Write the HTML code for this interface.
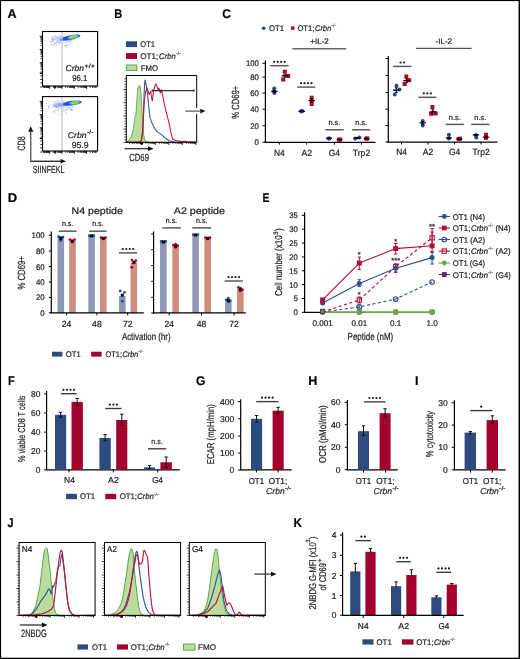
<!DOCTYPE html>
<html><head><meta charset="utf-8"><style>
html,body{margin:0;padding:0;background:#fff;}
svg{display:block;}
text{font-family:"Liberation Sans", sans-serif;filter:grayscale(1);stroke:#231f20;stroke-width:0.22px;}
</style></head><body>
<svg width="520" height="659" viewBox="0 0 520 659" text-rendering="geometricPrecision" font-family='"Liberation Sans", sans-serif'>
<rect width="520" height="659" fill="#fff"/>
<rect x="0" y="0" width="520" height="1.1" fill="#000"/>
<rect x="0" y="0" width="1.1" height="659" fill="#000"/>
<rect x="518.55" y="0" width="1.45" height="659" fill="#000"/>
<rect x="0" y="657.7" width="520" height="1.3" fill="#000"/>
<text x="7.60" y="17.60" font-size="12.6" textLength="9.10" lengthAdjust="spacingAndGlyphs" font-weight="bold" fill="#000">A</text>
<text x="114.30" y="17.60" font-size="12.6" textLength="8.01" lengthAdjust="spacingAndGlyphs" font-weight="bold" fill="#000">B</text>
<text x="222.30" y="17.60" font-size="12.6" textLength="8.64" lengthAdjust="spacingAndGlyphs" font-weight="bold" fill="#000">C</text>
<text x="7.80" y="202.40" font-size="12.6" textLength="9.46" lengthAdjust="spacingAndGlyphs" font-weight="bold" fill="#000">D</text>
<text x="262.50" y="202.40" font-size="12.6" textLength="6.97" lengthAdjust="spacingAndGlyphs" font-weight="bold" fill="#000">E</text>
<text x="8.00" y="385.00" font-size="12.6" textLength="6.70" lengthAdjust="spacingAndGlyphs" font-weight="bold" fill="#000">F</text>
<text x="196.00" y="385.00" font-size="12.6" textLength="9.41" lengthAdjust="spacingAndGlyphs" font-weight="bold" fill="#000">G</text>
<text x="308.20" y="385.10" font-size="12.6" textLength="9.10" lengthAdjust="spacingAndGlyphs" font-weight="bold" fill="#000">H</text>
<text x="415.10" y="385.20" font-size="12.6" textLength="3.50" lengthAdjust="spacingAndGlyphs" font-weight="bold" fill="#000">I</text>
<text x="7.60" y="527.30" font-size="12.6" textLength="6.03" lengthAdjust="spacingAndGlyphs" font-weight="bold" fill="#000">J</text>
<text x="293.40" y="527.30" font-size="12.6" textLength="8.46" lengthAdjust="spacingAndGlyphs" font-weight="bold" fill="#000">K</text>
<rect x="52.72" y="39.11" width="0.90" height="0.90" fill="#7080ee" opacity="0.7"/>
<rect x="51.59" y="37.91" width="0.90" height="0.90" fill="#c8cffa" opacity="0.7"/>
<rect x="57.96" y="49.74" width="0.90" height="0.90" fill="#c8cffa" opacity="0.7"/>
<rect x="52.58" y="38.97" width="0.90" height="0.90" fill="#b4bdf7" opacity="0.7"/>
<rect x="62.15" y="45.48" width="0.90" height="0.90" fill="#c8cffa" opacity="0.7"/>
<rect x="65.91" y="40.57" width="0.90" height="0.90" fill="#7080ee" opacity="0.7"/>
<rect x="58.07" y="34.41" width="0.90" height="0.90" fill="#8190f0" opacity="0.7"/>
<rect x="70.13" y="40.16" width="0.90" height="0.90" fill="#7080ee" opacity="0.7"/>
<rect x="64.53" y="37.47" width="0.90" height="0.90" fill="#9aa6f4" opacity="0.7"/>
<rect x="53.36" y="39.97" width="0.90" height="0.90" fill="#c8cffa" opacity="0.7"/>
<rect x="69.17" y="39.25" width="0.90" height="0.90" fill="#c8cffa" opacity="0.7"/>
<rect x="52.40" y="39.25" width="0.90" height="0.90" fill="#b4bdf7" opacity="0.7"/>
<rect x="62.79" y="35.96" width="0.90" height="0.90" fill="#8190f0" opacity="0.7"/>
<rect x="65.47" y="40.03" width="0.90" height="0.90" fill="#8190f0" opacity="0.7"/>
<rect x="70.89" y="39.50" width="0.90" height="0.90" fill="#b4bdf7" opacity="0.7"/>
<rect x="59.90" y="39.72" width="0.90" height="0.90" fill="#9aa6f4" opacity="0.7"/>
<rect x="57.95" y="36.97" width="0.90" height="0.90" fill="#b4bdf7" opacity="0.7"/>
<rect x="52.70" y="41.27" width="0.90" height="0.90" fill="#9aa6f4" opacity="0.7"/>
<rect x="55.64" y="39.30" width="0.90" height="0.90" fill="#7080ee" opacity="0.7"/>
<rect x="65.25" y="34.17" width="0.90" height="0.90" fill="#7080ee" opacity="0.7"/>
<rect x="57.09" y="39.98" width="0.90" height="0.90" fill="#9aa6f4" opacity="0.7"/>
<rect x="59.33" y="40.29" width="0.90" height="0.90" fill="#c8cffa" opacity="0.7"/>
<rect x="56.06" y="44.47" width="0.90" height="0.90" fill="#8190f0" opacity="0.7"/>
<rect x="65.25" y="38.26" width="0.90" height="0.90" fill="#c8cffa" opacity="0.7"/>
<rect x="59.44" y="37.74" width="0.90" height="0.90" fill="#7080ee" opacity="0.7"/>
<rect x="65.62" y="44.74" width="0.90" height="0.90" fill="#7080ee" opacity="0.7"/>
<rect x="52.17" y="36.35" width="0.90" height="0.90" fill="#8190f0" opacity="0.7"/>
<rect x="56.42" y="42.45" width="0.90" height="0.90" fill="#8190f0" opacity="0.7"/>
<rect x="51.83" y="41.91" width="0.90" height="0.90" fill="#9aa6f4" opacity="0.7"/>
<rect x="54.70" y="39.05" width="0.90" height="0.90" fill="#8190f0" opacity="0.7"/>
<rect x="54.92" y="37.37" width="0.90" height="0.90" fill="#8190f0" opacity="0.7"/>
<rect x="68.00" y="41.53" width="0.90" height="0.90" fill="#9aa6f4" opacity="0.7"/>
<rect x="66.57" y="44.27" width="0.90" height="0.90" fill="#7080ee" opacity="0.7"/>
<rect x="57.78" y="41.62" width="0.90" height="0.90" fill="#8190f0" opacity="0.7"/>
<rect x="65.98" y="45.96" width="0.90" height="0.90" fill="#9aa6f4" opacity="0.7"/>
<rect x="71.72" y="41.97" width="0.90" height="0.90" fill="#b4bdf7" opacity="0.7"/>
<rect x="57.90" y="45.23" width="0.90" height="0.90" fill="#b4bdf7" opacity="0.7"/>
<rect x="53.94" y="35.99" width="0.90" height="0.90" fill="#9aa6f4" opacity="0.7"/>
<rect x="54.95" y="42.33" width="0.90" height="0.90" fill="#b4bdf7" opacity="0.7"/>
<rect x="58.17" y="38.46" width="0.90" height="0.90" fill="#8190f0" opacity="0.7"/>
<rect x="67.63" y="44.70" width="0.90" height="0.90" fill="#8190f0" opacity="0.7"/>
<rect x="60.34" y="42.44" width="0.90" height="0.90" fill="#b4bdf7" opacity="0.7"/>
<rect x="59.43" y="36.54" width="0.90" height="0.90" fill="#8190f0" opacity="0.7"/>
<rect x="57.44" y="38.78" width="0.90" height="0.90" fill="#7080ee" opacity="0.7"/>
<rect x="58.99" y="41.71" width="0.90" height="0.90" fill="#8190f0" opacity="0.7"/>
<rect x="54.29" y="38.04" width="0.90" height="0.90" fill="#7080ee" opacity="0.7"/>
<rect x="58.75" y="39.06" width="0.90" height="0.90" fill="#9aa6f4" opacity="0.7"/>
<rect x="59.51" y="36.26" width="0.90" height="0.90" fill="#7080ee" opacity="0.7"/>
<rect x="65.75" y="37.78" width="0.90" height="0.90" fill="#b4bdf7" opacity="0.7"/>
<rect x="49.83" y="41.25" width="0.90" height="0.90" fill="#7080ee" opacity="0.7"/>
<rect x="58.52" y="39.91" width="0.90" height="0.90" fill="#9aa6f4" opacity="0.7"/>
<rect x="68.59" y="41.16" width="0.90" height="0.90" fill="#b4bdf7" opacity="0.7"/>
<rect x="61.91" y="37.27" width="0.90" height="0.90" fill="#b4bdf7" opacity="0.7"/>
<rect x="70.84" y="39.39" width="0.90" height="0.90" fill="#9aa6f4" opacity="0.7"/>
<rect x="60.20" y="42.34" width="0.90" height="0.90" fill="#b4bdf7" opacity="0.7"/>
<rect x="52.31" y="39.42" width="0.90" height="0.90" fill="#7080ee" opacity="0.7"/>
<rect x="64.52" y="45.59" width="0.90" height="0.90" fill="#7080ee" opacity="0.7"/>
<rect x="57.39" y="37.16" width="0.90" height="0.90" fill="#b4bdf7" opacity="0.7"/>
<rect x="58.21" y="38.92" width="0.90" height="0.90" fill="#b4bdf7" opacity="0.7"/>
<rect x="72.99" y="39.18" width="0.90" height="0.90" fill="#9aa6f4" opacity="0.7"/>
<rect x="52.77" y="38.59" width="0.90" height="0.90" fill="#8190f0" opacity="0.7"/>
<rect x="52.85" y="37.44" width="0.90" height="0.90" fill="#9aa6f4" opacity="0.7"/>
<rect x="56.64" y="39.72" width="0.90" height="0.90" fill="#9aa6f4" opacity="0.7"/>
<rect x="67.83" y="41.64" width="0.90" height="0.90" fill="#c8cffa" opacity="0.7"/>
<rect x="67.64" y="40.53" width="0.90" height="0.90" fill="#7080ee" opacity="0.7"/>
<rect x="57.49" y="40.87" width="0.90" height="0.90" fill="#c8cffa" opacity="0.7"/>
<rect x="53.20" y="38.43" width="0.90" height="0.90" fill="#b4bdf7" opacity="0.7"/>
<rect x="64.72" y="41.99" width="0.90" height="0.90" fill="#9aa6f4" opacity="0.7"/>
<rect x="65.41" y="42.13" width="0.90" height="0.90" fill="#b4bdf7" opacity="0.7"/>
<rect x="50.70" y="40.96" width="0.90" height="0.90" fill="#7080ee" opacity="0.7"/>
<rect x="58.45" y="35.92" width="0.90" height="0.90" fill="#c8cffa" opacity="0.7"/>
<rect x="51.66" y="36.26" width="0.90" height="0.90" fill="#8190f0" opacity="0.7"/>
<rect x="54.99" y="36.77" width="0.90" height="0.90" fill="#b4bdf7" opacity="0.7"/>
<rect x="55.89" y="43.87" width="0.90" height="0.90" fill="#c8cffa" opacity="0.7"/>
<rect x="57.28" y="40.42" width="0.90" height="0.90" fill="#8190f0" opacity="0.7"/>
<rect x="62.55" y="36.72" width="0.90" height="0.90" fill="#8190f0" opacity="0.7"/>
<rect x="69.48" y="38.81" width="0.90" height="0.90" fill="#c8cffa" opacity="0.7"/>
<rect x="56.05" y="36.06" width="0.90" height="0.90" fill="#9aa6f4" opacity="0.7"/>
<rect x="65.66" y="38.52" width="0.90" height="0.90" fill="#b4bdf7" opacity="0.7"/>
<rect x="68.29" y="41.71" width="0.90" height="0.90" fill="#9aa6f4" opacity="0.7"/>
<rect x="51.08" y="43.81" width="0.90" height="0.90" fill="#8190f0" opacity="0.7"/>
<rect x="72.18" y="44.86" width="0.90" height="0.90" fill="#c8cffa" opacity="0.7"/>
<rect x="71.63" y="40.39" width="0.90" height="0.90" fill="#9aa6f4" opacity="0.7"/>
<rect x="57.15" y="36.33" width="0.90" height="0.90" fill="#b4bdf7" opacity="0.7"/>
<rect x="54.17" y="43.35" width="0.90" height="0.90" fill="#9aa6f4" opacity="0.7"/>
<rect x="57.96" y="41.96" width="0.90" height="0.90" fill="#7080ee" opacity="0.7"/>
<rect x="69.46" y="40.70" width="0.90" height="0.90" fill="#7080ee" opacity="0.7"/>
<rect x="54.02" y="42.42" width="0.90" height="0.90" fill="#9aa6f4" opacity="0.7"/>
<rect x="57.49" y="46.78" width="0.90" height="0.90" fill="#b4bdf7" opacity="0.7"/>
<rect x="51.57" y="38.25" width="0.90" height="0.90" fill="#7080ee" opacity="0.7"/>
<rect x="58.96" y="42.42" width="0.90" height="0.90" fill="#b4bdf7" opacity="0.7"/>
<rect x="51.77" y="39.94" width="0.90" height="0.90" fill="#7080ee" opacity="0.7"/>
<rect x="59.83" y="38.74" width="0.90" height="0.90" fill="#b4bdf7" opacity="0.7"/>
<rect x="58.35" y="43.68" width="0.90" height="0.90" fill="#8190f0" opacity="0.7"/>
<rect x="69.56" y="38.80" width="0.90" height="0.90" fill="#8190f0" opacity="0.7"/>
<rect x="60.07" y="36.72" width="0.90" height="0.90" fill="#7080ee" opacity="0.7"/>
<rect x="56.28" y="41.99" width="0.90" height="0.90" fill="#9aa6f4" opacity="0.7"/>
<rect x="57.54" y="38.01" width="0.90" height="0.90" fill="#7080ee" opacity="0.7"/>
<rect x="53.43" y="44.55" width="0.90" height="0.90" fill="#b4bdf7" opacity="0.7"/>
<rect x="54.49" y="35.49" width="0.90" height="0.90" fill="#b4bdf7" opacity="0.7"/>
<rect x="60.55" y="35.10" width="0.90" height="0.90" fill="#7080ee" opacity="0.7"/>
<rect x="58.23" y="39.85" width="0.90" height="0.90" fill="#c8cffa" opacity="0.7"/>
<rect x="67.50" y="40.86" width="0.90" height="0.90" fill="#b4bdf7" opacity="0.7"/>
<rect x="62.46" y="37.78" width="0.90" height="0.90" fill="#9aa6f4" opacity="0.7"/>
<rect x="68.41" y="39.86" width="0.90" height="0.90" fill="#b4bdf7" opacity="0.7"/>
<rect x="70.22" y="44.16" width="0.90" height="0.90" fill="#9aa6f4" opacity="0.7"/>
<rect x="66.35" y="46.60" width="0.90" height="0.90" fill="#8190f0" opacity="0.7"/>
<rect x="62.93" y="42.81" width="0.90" height="0.90" fill="#9aa6f4" opacity="0.7"/>
<rect x="58.36" y="37.75" width="0.90" height="0.90" fill="#8190f0" opacity="0.7"/>
<rect x="56.22" y="37.20" width="0.90" height="0.90" fill="#9aa6f4" opacity="0.7"/>
<rect x="52.14" y="41.25" width="0.90" height="0.90" fill="#b4bdf7" opacity="0.7"/>
<rect x="56.37" y="36.42" width="0.90" height="0.90" fill="#b4bdf7" opacity="0.7"/>
<rect x="59.07" y="41.54" width="0.90" height="0.90" fill="#c8cffa" opacity="0.7"/>
<rect x="63.58" y="35.63" width="0.90" height="0.90" fill="#9aa6f4" opacity="0.7"/>
<rect x="54.67" y="35.60" width="0.90" height="0.90" fill="#8190f0" opacity="0.7"/>
<rect x="64.91" y="45.14" width="0.90" height="0.90" fill="#8190f0" opacity="0.7"/>
<rect x="60.19" y="38.97" width="0.90" height="0.90" fill="#7080ee" opacity="0.7"/>
<rect x="60.31" y="42.19" width="0.90" height="0.90" fill="#8190f0" opacity="0.7"/>
<rect x="54.73" y="44.55" width="0.90" height="0.90" fill="#b4bdf7" opacity="0.7"/>
<rect x="56.30" y="38.21" width="0.90" height="0.90" fill="#8190f0" opacity="0.7"/>
<rect x="65.45" y="40.30" width="0.90" height="0.90" fill="#7080ee" opacity="0.7"/>
<rect x="53.31" y="44.08" width="0.90" height="0.90" fill="#7080ee" opacity="0.7"/>
<rect x="55.76" y="41.73" width="0.90" height="0.90" fill="#c8cffa" opacity="0.7"/>
<rect x="57.31" y="40.91" width="0.90" height="0.90" fill="#b4bdf7" opacity="0.7"/>
<rect x="60.28" y="40.26" width="0.90" height="0.90" fill="#8190f0" opacity="0.7"/>
<rect x="56.42" y="40.89" width="0.90" height="0.90" fill="#b4bdf7" opacity="0.7"/>
<rect x="53.44" y="39.83" width="0.90" height="0.90" fill="#7080ee" opacity="0.7"/>
<rect x="54.48" y="42.54" width="0.90" height="0.90" fill="#7080ee" opacity="0.7"/>
<rect x="70.86" y="42.69" width="0.90" height="0.90" fill="#9aa6f4" opacity="0.7"/>
<rect x="51.24" y="37.47" width="0.90" height="0.90" fill="#7080ee" opacity="0.7"/>
<rect x="66.24" y="39.75" width="0.90" height="0.90" fill="#b4bdf7" opacity="0.7"/>
<rect x="54.59" y="37.28" width="0.90" height="0.90" fill="#b4bdf7" opacity="0.7"/>
<rect x="59.16" y="42.31" width="0.90" height="0.90" fill="#b4bdf7" opacity="0.7"/>
<rect x="57.87" y="41.55" width="0.90" height="0.90" fill="#8190f0" opacity="0.7"/>
<rect x="54.44" y="45.46" width="0.90" height="0.90" fill="#c8cffa" opacity="0.7"/>
<rect x="70.33" y="40.60" width="0.90" height="0.90" fill="#7080ee" opacity="0.7"/>
<g transform="rotate(-11 73.60 36.90)"><ellipse cx="64.60" cy="37.30" rx="5.00" ry="1.9" fill="#6f7ff0" opacity="0.55"/><ellipse cx="70.10" cy="37.00" rx="10.5" ry="2.5" fill="#3a56f0" opacity="0.6"/><ellipse cx="71.10" cy="36.90" rx="9.2" ry="2.0" fill="#2040f0" opacity="0.9"/><ellipse cx="73.10" cy="36.90" rx="5.6" ry="1.75" fill="#30c0e8"/><ellipse cx="73.30" cy="36.90" rx="4.3" ry="1.4" fill="#58dc70"/><ellipse cx="73.60" cy="36.90" rx="2.9" ry="1.05" fill="#d8dc30"/><ellipse cx="73.80" cy="36.90" rx="1.7" ry="0.7" fill="#f08018"/></g>
<line x1="62.00" y1="31.50" x2="62.00" y2="86.00" stroke="#b8b8b8" stroke-width="1.0"/>
<rect x="42.50" y="31.50" width="55.10" height="54.50" fill="none" stroke="#000" stroke-width="1.1"/>
<line x1="39.70" y1="36.30" x2="42.50" y2="36.30" stroke="#000" stroke-width="0.9"/>
<line x1="40.50" y1="45.53" x2="42.50" y2="45.53" stroke="#000" stroke-width="0.7"/>
<line x1="40.50" y1="43.20" x2="42.50" y2="43.20" stroke="#000" stroke-width="0.7"/>
<line x1="40.50" y1="41.55" x2="42.50" y2="41.55" stroke="#000" stroke-width="0.7"/>
<line x1="40.50" y1="40.27" x2="42.50" y2="40.27" stroke="#000" stroke-width="0.7"/>
<line x1="40.50" y1="39.23" x2="42.50" y2="39.23" stroke="#000" stroke-width="0.7"/>
<line x1="40.50" y1="38.34" x2="42.50" y2="38.34" stroke="#000" stroke-width="0.7"/>
<line x1="40.50" y1="37.58" x2="42.50" y2="37.58" stroke="#000" stroke-width="0.7"/>
<line x1="40.50" y1="36.90" x2="42.50" y2="36.90" stroke="#000" stroke-width="0.7"/>
<line x1="39.70" y1="49.50" x2="42.50" y2="49.50" stroke="#000" stroke-width="0.9"/>
<line x1="40.50" y1="58.73" x2="42.50" y2="58.73" stroke="#000" stroke-width="0.7"/>
<line x1="40.50" y1="56.40" x2="42.50" y2="56.40" stroke="#000" stroke-width="0.7"/>
<line x1="40.50" y1="54.75" x2="42.50" y2="54.75" stroke="#000" stroke-width="0.7"/>
<line x1="40.50" y1="53.47" x2="42.50" y2="53.47" stroke="#000" stroke-width="0.7"/>
<line x1="40.50" y1="52.43" x2="42.50" y2="52.43" stroke="#000" stroke-width="0.7"/>
<line x1="40.50" y1="51.54" x2="42.50" y2="51.54" stroke="#000" stroke-width="0.7"/>
<line x1="40.50" y1="50.78" x2="42.50" y2="50.78" stroke="#000" stroke-width="0.7"/>
<line x1="40.50" y1="50.10" x2="42.50" y2="50.10" stroke="#000" stroke-width="0.7"/>
<line x1="39.70" y1="62.70" x2="42.50" y2="62.70" stroke="#000" stroke-width="0.9"/>
<line x1="40.50" y1="71.93" x2="42.50" y2="71.93" stroke="#000" stroke-width="0.7"/>
<line x1="40.50" y1="69.60" x2="42.50" y2="69.60" stroke="#000" stroke-width="0.7"/>
<line x1="40.50" y1="67.95" x2="42.50" y2="67.95" stroke="#000" stroke-width="0.7"/>
<line x1="40.50" y1="66.67" x2="42.50" y2="66.67" stroke="#000" stroke-width="0.7"/>
<line x1="40.50" y1="65.63" x2="42.50" y2="65.63" stroke="#000" stroke-width="0.7"/>
<line x1="40.50" y1="64.74" x2="42.50" y2="64.74" stroke="#000" stroke-width="0.7"/>
<line x1="40.50" y1="63.98" x2="42.50" y2="63.98" stroke="#000" stroke-width="0.7"/>
<line x1="40.50" y1="63.30" x2="42.50" y2="63.30" stroke="#000" stroke-width="0.7"/>
<line x1="40.30" y1="75.90" x2="42.50" y2="75.90" stroke="#000" stroke-width="0.8"/>
<line x1="40.30" y1="79.50" x2="42.50" y2="79.50" stroke="#000" stroke-width="0.8"/>
<line x1="40.30" y1="82.80" x2="42.50" y2="82.80" stroke="#000" stroke-width="0.8"/>
<line x1="39.80" y1="73.30" x2="42.50" y2="73.30" stroke="#000" stroke-width="1.5"/>
<line x1="49.70" y1="86.00" x2="49.70" y2="88.80" stroke="#000" stroke-width="0.9"/>
<line x1="41.10" y1="86.00" x2="41.10" y2="88.00" stroke="#000" stroke-width="0.7"/>
<line x1="43.27" y1="86.00" x2="43.27" y2="88.00" stroke="#000" stroke-width="0.7"/>
<line x1="44.81" y1="86.00" x2="44.81" y2="88.00" stroke="#000" stroke-width="0.7"/>
<line x1="46.00" y1="86.00" x2="46.00" y2="88.00" stroke="#000" stroke-width="0.7"/>
<line x1="46.97" y1="86.00" x2="46.97" y2="88.00" stroke="#000" stroke-width="0.7"/>
<line x1="47.79" y1="86.00" x2="47.79" y2="88.00" stroke="#000" stroke-width="0.7"/>
<line x1="48.51" y1="86.00" x2="48.51" y2="88.00" stroke="#000" stroke-width="0.7"/>
<line x1="49.14" y1="86.00" x2="49.14" y2="88.00" stroke="#000" stroke-width="0.7"/>
<line x1="62.00" y1="86.00" x2="62.00" y2="88.80" stroke="#000" stroke-width="0.9"/>
<line x1="53.40" y1="86.00" x2="53.40" y2="88.00" stroke="#000" stroke-width="0.7"/>
<line x1="55.57" y1="86.00" x2="55.57" y2="88.00" stroke="#000" stroke-width="0.7"/>
<line x1="57.11" y1="86.00" x2="57.11" y2="88.00" stroke="#000" stroke-width="0.7"/>
<line x1="58.30" y1="86.00" x2="58.30" y2="88.00" stroke="#000" stroke-width="0.7"/>
<line x1="59.27" y1="86.00" x2="59.27" y2="88.00" stroke="#000" stroke-width="0.7"/>
<line x1="60.09" y1="86.00" x2="60.09" y2="88.00" stroke="#000" stroke-width="0.7"/>
<line x1="60.81" y1="86.00" x2="60.81" y2="88.00" stroke="#000" stroke-width="0.7"/>
<line x1="61.44" y1="86.00" x2="61.44" y2="88.00" stroke="#000" stroke-width="0.7"/>
<line x1="74.30" y1="86.00" x2="74.30" y2="88.80" stroke="#000" stroke-width="0.9"/>
<line x1="65.70" y1="86.00" x2="65.70" y2="88.00" stroke="#000" stroke-width="0.7"/>
<line x1="67.87" y1="86.00" x2="67.87" y2="88.00" stroke="#000" stroke-width="0.7"/>
<line x1="69.41" y1="86.00" x2="69.41" y2="88.00" stroke="#000" stroke-width="0.7"/>
<line x1="70.60" y1="86.00" x2="70.60" y2="88.00" stroke="#000" stroke-width="0.7"/>
<line x1="71.57" y1="86.00" x2="71.57" y2="88.00" stroke="#000" stroke-width="0.7"/>
<line x1="72.39" y1="86.00" x2="72.39" y2="88.00" stroke="#000" stroke-width="0.7"/>
<line x1="73.11" y1="86.00" x2="73.11" y2="88.00" stroke="#000" stroke-width="0.7"/>
<line x1="73.74" y1="86.00" x2="73.74" y2="88.00" stroke="#000" stroke-width="0.7"/>
<line x1="86.60" y1="86.00" x2="86.60" y2="88.80" stroke="#000" stroke-width="0.9"/>
<line x1="78.00" y1="86.00" x2="78.00" y2="88.00" stroke="#000" stroke-width="0.7"/>
<line x1="80.17" y1="86.00" x2="80.17" y2="88.00" stroke="#000" stroke-width="0.7"/>
<line x1="81.71" y1="86.00" x2="81.71" y2="88.00" stroke="#000" stroke-width="0.7"/>
<line x1="82.90" y1="86.00" x2="82.90" y2="88.00" stroke="#000" stroke-width="0.7"/>
<line x1="83.87" y1="86.00" x2="83.87" y2="88.00" stroke="#000" stroke-width="0.7"/>
<line x1="84.69" y1="86.00" x2="84.69" y2="88.00" stroke="#000" stroke-width="0.7"/>
<line x1="85.41" y1="86.00" x2="85.41" y2="88.00" stroke="#000" stroke-width="0.7"/>
<line x1="86.04" y1="86.00" x2="86.04" y2="88.00" stroke="#000" stroke-width="0.7"/>
<line x1="90.30" y1="86.00" x2="90.30" y2="88.00" stroke="#000" stroke-width="0.7"/>
<line x1="92.47" y1="86.00" x2="92.47" y2="88.00" stroke="#000" stroke-width="0.7"/>
<line x1="94.01" y1="86.00" x2="94.01" y2="88.00" stroke="#000" stroke-width="0.7"/>
<line x1="95.20" y1="86.00" x2="95.20" y2="88.00" stroke="#000" stroke-width="0.7"/>
<line x1="96.17" y1="86.00" x2="96.17" y2="88.00" stroke="#000" stroke-width="0.7"/>
<line x1="44.60" y1="86.00" x2="44.60" y2="88.00" stroke="#000" stroke-width="0.8"/>
<line x1="46.80" y1="86.00" x2="46.80" y2="88.00" stroke="#000" stroke-width="0.8"/>
<line x1="55.00" y1="86.00" x2="55.00" y2="88.60" stroke="#000" stroke-width="1.6"/>
<text x="65.60" y="70.80" font-size="8.4" textLength="18.40" lengthAdjust="spacingAndGlyphs" font-style="italic" fill="#231f20">Crbn</text>
<text x="84.50" y="68.10" font-size="6.0" textLength="10.40" lengthAdjust="spacingAndGlyphs" fill="#231f20">+/+</text>
<text x="72.20" y="81.20" font-size="8.7" textLength="15.00" lengthAdjust="spacingAndGlyphs" fill="#231f20">96.1</text>
<rect x="57.61" y="100.36" width="0.90" height="0.90" fill="#7080ee" opacity="0.7"/>
<rect x="48.17" y="107.24" width="0.90" height="0.90" fill="#9aa6f4" opacity="0.7"/>
<rect x="71.41" y="109.11" width="0.90" height="0.90" fill="#b4bdf7" opacity="0.7"/>
<rect x="60.55" y="107.06" width="0.90" height="0.90" fill="#b4bdf7" opacity="0.7"/>
<rect x="61.50" y="111.19" width="0.90" height="0.90" fill="#c8cffa" opacity="0.7"/>
<rect x="58.67" y="104.13" width="0.90" height="0.90" fill="#7080ee" opacity="0.7"/>
<rect x="65.59" y="111.63" width="0.90" height="0.90" fill="#9aa6f4" opacity="0.7"/>
<rect x="60.57" y="114.03" width="0.90" height="0.90" fill="#b4bdf7" opacity="0.7"/>
<rect x="63.08" y="104.80" width="0.90" height="0.90" fill="#b4bdf7" opacity="0.7"/>
<rect x="60.73" y="105.31" width="0.90" height="0.90" fill="#c8cffa" opacity="0.7"/>
<rect x="56.37" y="107.08" width="0.90" height="0.90" fill="#b4bdf7" opacity="0.7"/>
<rect x="54.19" y="110.52" width="0.90" height="0.90" fill="#7080ee" opacity="0.7"/>
<rect x="56.33" y="103.25" width="0.90" height="0.90" fill="#8190f0" opacity="0.7"/>
<rect x="55.76" y="110.05" width="0.90" height="0.90" fill="#b4bdf7" opacity="0.7"/>
<rect x="57.60" y="104.71" width="0.90" height="0.90" fill="#9aa6f4" opacity="0.7"/>
<rect x="65.45" y="109.26" width="0.90" height="0.90" fill="#7080ee" opacity="0.7"/>
<rect x="64.49" y="109.75" width="0.90" height="0.90" fill="#9aa6f4" opacity="0.7"/>
<rect x="56.46" y="101.65" width="0.90" height="0.90" fill="#b4bdf7" opacity="0.7"/>
<rect x="58.19" y="111.25" width="0.90" height="0.90" fill="#c8cffa" opacity="0.7"/>
<rect x="54.87" y="108.59" width="0.90" height="0.90" fill="#c8cffa" opacity="0.7"/>
<rect x="57.92" y="100.34" width="0.90" height="0.90" fill="#8190f0" opacity="0.7"/>
<rect x="59.73" y="105.26" width="0.90" height="0.90" fill="#8190f0" opacity="0.7"/>
<rect x="56.45" y="106.99" width="0.90" height="0.90" fill="#8190f0" opacity="0.7"/>
<rect x="64.68" y="106.57" width="0.90" height="0.90" fill="#8190f0" opacity="0.7"/>
<rect x="59.78" y="101.68" width="0.90" height="0.90" fill="#8190f0" opacity="0.7"/>
<rect x="68.67" y="107.90" width="0.90" height="0.90" fill="#7080ee" opacity="0.7"/>
<rect x="55.43" y="106.93" width="0.90" height="0.90" fill="#7080ee" opacity="0.7"/>
<rect x="57.99" y="110.05" width="0.90" height="0.90" fill="#b4bdf7" opacity="0.7"/>
<rect x="58.94" y="105.31" width="0.90" height="0.90" fill="#c8cffa" opacity="0.7"/>
<rect x="61.16" y="113.86" width="0.90" height="0.90" fill="#7080ee" opacity="0.7"/>
<rect x="63.19" y="103.85" width="0.90" height="0.90" fill="#9aa6f4" opacity="0.7"/>
<rect x="56.98" y="106.45" width="0.90" height="0.90" fill="#c8cffa" opacity="0.7"/>
<rect x="72.35" y="106.77" width="0.90" height="0.90" fill="#c8cffa" opacity="0.7"/>
<rect x="56.61" y="107.89" width="0.90" height="0.90" fill="#c8cffa" opacity="0.7"/>
<rect x="60.47" y="108.02" width="0.90" height="0.90" fill="#7080ee" opacity="0.7"/>
<rect x="64.71" y="105.01" width="0.90" height="0.90" fill="#8190f0" opacity="0.7"/>
<rect x="52.95" y="105.88" width="0.90" height="0.90" fill="#7080ee" opacity="0.7"/>
<rect x="63.48" y="110.69" width="0.90" height="0.90" fill="#8190f0" opacity="0.7"/>
<rect x="54.35" y="101.36" width="0.90" height="0.90" fill="#8190f0" opacity="0.7"/>
<rect x="54.08" y="100.74" width="0.90" height="0.90" fill="#8190f0" opacity="0.7"/>
<rect x="66.79" y="105.18" width="0.90" height="0.90" fill="#8190f0" opacity="0.7"/>
<rect x="57.44" y="105.48" width="0.90" height="0.90" fill="#7080ee" opacity="0.7"/>
<rect x="66.53" y="109.05" width="0.90" height="0.90" fill="#8190f0" opacity="0.7"/>
<rect x="63.70" y="103.48" width="0.90" height="0.90" fill="#8190f0" opacity="0.7"/>
<rect x="52.41" y="111.53" width="0.90" height="0.90" fill="#c8cffa" opacity="0.7"/>
<rect x="62.67" y="100.64" width="0.90" height="0.90" fill="#c8cffa" opacity="0.7"/>
<rect x="72.65" y="106.35" width="0.90" height="0.90" fill="#7080ee" opacity="0.7"/>
<rect x="69.20" y="109.54" width="0.90" height="0.90" fill="#c8cffa" opacity="0.7"/>
<rect x="63.51" y="107.83" width="0.90" height="0.90" fill="#c8cffa" opacity="0.7"/>
<rect x="59.05" y="101.82" width="0.90" height="0.90" fill="#c8cffa" opacity="0.7"/>
<rect x="50.03" y="103.72" width="0.90" height="0.90" fill="#8190f0" opacity="0.7"/>
<rect x="70.33" y="107.47" width="0.90" height="0.90" fill="#c8cffa" opacity="0.7"/>
<rect x="60.99" y="110.29" width="0.90" height="0.90" fill="#b4bdf7" opacity="0.7"/>
<rect x="62.58" y="106.58" width="0.90" height="0.90" fill="#b4bdf7" opacity="0.7"/>
<rect x="59.58" y="104.79" width="0.90" height="0.90" fill="#b4bdf7" opacity="0.7"/>
<rect x="53.85" y="104.77" width="0.90" height="0.90" fill="#8190f0" opacity="0.7"/>
<rect x="53.72" y="103.11" width="0.90" height="0.90" fill="#b4bdf7" opacity="0.7"/>
<rect x="65.39" y="108.92" width="0.90" height="0.90" fill="#8190f0" opacity="0.7"/>
<rect x="72.08" y="104.24" width="0.90" height="0.90" fill="#7080ee" opacity="0.7"/>
<rect x="63.64" y="106.63" width="0.90" height="0.90" fill="#9aa6f4" opacity="0.7"/>
<rect x="47.71" y="105.11" width="0.90" height="0.90" fill="#8190f0" opacity="0.7"/>
<rect x="69.74" y="104.74" width="0.90" height="0.90" fill="#7080ee" opacity="0.7"/>
<rect x="56.41" y="106.91" width="0.90" height="0.90" fill="#7080ee" opacity="0.7"/>
<rect x="55.23" y="105.99" width="0.90" height="0.90" fill="#b4bdf7" opacity="0.7"/>
<rect x="52.73" y="110.81" width="0.90" height="0.90" fill="#9aa6f4" opacity="0.7"/>
<rect x="53.70" y="111.64" width="0.90" height="0.90" fill="#7080ee" opacity="0.7"/>
<rect x="51.92" y="101.11" width="0.90" height="0.90" fill="#c8cffa" opacity="0.7"/>
<rect x="62.85" y="105.19" width="0.90" height="0.90" fill="#c8cffa" opacity="0.7"/>
<rect x="60.58" y="111.74" width="0.90" height="0.90" fill="#b4bdf7" opacity="0.7"/>
<rect x="57.27" y="114.13" width="0.90" height="0.90" fill="#c8cffa" opacity="0.7"/>
<rect x="68.04" y="106.59" width="0.90" height="0.90" fill="#8190f0" opacity="0.7"/>
<rect x="56.92" y="109.03" width="0.90" height="0.90" fill="#9aa6f4" opacity="0.7"/>
<rect x="61.06" y="105.15" width="0.90" height="0.90" fill="#9aa6f4" opacity="0.7"/>
<rect x="68.30" y="106.82" width="0.90" height="0.90" fill="#7080ee" opacity="0.7"/>
<rect x="58.20" y="109.10" width="0.90" height="0.90" fill="#9aa6f4" opacity="0.7"/>
<rect x="57.73" y="107.43" width="0.90" height="0.90" fill="#8190f0" opacity="0.7"/>
<rect x="54.29" y="103.56" width="0.90" height="0.90" fill="#7080ee" opacity="0.7"/>
<rect x="68.57" y="106.91" width="0.90" height="0.90" fill="#b4bdf7" opacity="0.7"/>
<rect x="54.28" y="105.13" width="0.90" height="0.90" fill="#8190f0" opacity="0.7"/>
<rect x="71.66" y="107.60" width="0.90" height="0.90" fill="#7080ee" opacity="0.7"/>
<rect x="63.33" y="105.77" width="0.90" height="0.90" fill="#9aa6f4" opacity="0.7"/>
<rect x="67.34" y="107.07" width="0.90" height="0.90" fill="#c8cffa" opacity="0.7"/>
<rect x="63.08" y="101.24" width="0.90" height="0.90" fill="#c8cffa" opacity="0.7"/>
<rect x="59.66" y="104.11" width="0.90" height="0.90" fill="#8190f0" opacity="0.7"/>
<rect x="58.18" y="103.15" width="0.90" height="0.90" fill="#9aa6f4" opacity="0.7"/>
<rect x="54.85" y="106.71" width="0.90" height="0.90" fill="#c8cffa" opacity="0.7"/>
<rect x="70.85" y="109.52" width="0.90" height="0.90" fill="#7080ee" opacity="0.7"/>
<rect x="72.90" y="106.65" width="0.90" height="0.90" fill="#c8cffa" opacity="0.7"/>
<rect x="58.60" y="104.65" width="0.90" height="0.90" fill="#b4bdf7" opacity="0.7"/>
<rect x="59.30" y="106.25" width="0.90" height="0.90" fill="#9aa6f4" opacity="0.7"/>
<rect x="56.57" y="106.19" width="0.90" height="0.90" fill="#c8cffa" opacity="0.7"/>
<rect x="75.33" y="108.71" width="0.90" height="0.90" fill="#b4bdf7" opacity="0.7"/>
<rect x="58.92" y="104.40" width="0.90" height="0.90" fill="#b4bdf7" opacity="0.7"/>
<rect x="66.82" y="104.52" width="0.90" height="0.90" fill="#b4bdf7" opacity="0.7"/>
<rect x="55.87" y="106.62" width="0.90" height="0.90" fill="#7080ee" opacity="0.7"/>
<rect x="52.20" y="104.19" width="0.90" height="0.90" fill="#9aa6f4" opacity="0.7"/>
<rect x="56.10" y="105.05" width="0.90" height="0.90" fill="#c8cffa" opacity="0.7"/>
<rect x="70.83" y="109.27" width="0.90" height="0.90" fill="#8190f0" opacity="0.7"/>
<rect x="54.09" y="105.89" width="0.90" height="0.90" fill="#8190f0" opacity="0.7"/>
<rect x="70.16" y="108.86" width="0.90" height="0.90" fill="#7080ee" opacity="0.7"/>
<rect x="48.78" y="105.46" width="0.90" height="0.90" fill="#7080ee" opacity="0.7"/>
<rect x="58.28" y="106.77" width="0.90" height="0.90" fill="#b4bdf7" opacity="0.7"/>
<rect x="58.02" y="102.08" width="0.90" height="0.90" fill="#b4bdf7" opacity="0.7"/>
<rect x="70.88" y="105.04" width="0.90" height="0.90" fill="#c8cffa" opacity="0.7"/>
<rect x="56.60" y="101.44" width="0.90" height="0.90" fill="#9aa6f4" opacity="0.7"/>
<rect x="66.17" y="107.04" width="0.90" height="0.90" fill="#7080ee" opacity="0.7"/>
<rect x="58.62" y="111.83" width="0.90" height="0.90" fill="#c8cffa" opacity="0.7"/>
<rect x="71.84" y="109.20" width="0.90" height="0.90" fill="#7080ee" opacity="0.7"/>
<rect x="70.16" y="107.69" width="0.90" height="0.90" fill="#c8cffa" opacity="0.7"/>
<rect x="58.35" y="107.17" width="0.90" height="0.90" fill="#c8cffa" opacity="0.7"/>
<rect x="71.58" y="110.00" width="0.90" height="0.90" fill="#8190f0" opacity="0.7"/>
<rect x="65.71" y="113.02" width="0.90" height="0.90" fill="#8190f0" opacity="0.7"/>
<rect x="63.38" y="110.09" width="0.90" height="0.90" fill="#8190f0" opacity="0.7"/>
<rect x="59.50" y="102.69" width="0.90" height="0.90" fill="#8190f0" opacity="0.7"/>
<rect x="53.42" y="103.55" width="0.90" height="0.90" fill="#b4bdf7" opacity="0.7"/>
<rect x="58.89" y="106.15" width="0.90" height="0.90" fill="#b4bdf7" opacity="0.7"/>
<rect x="48.14" y="106.14" width="0.90" height="0.90" fill="#8190f0" opacity="0.7"/>
<rect x="49.33" y="106.87" width="0.90" height="0.90" fill="#7080ee" opacity="0.7"/>
<rect x="66.02" y="109.79" width="0.90" height="0.90" fill="#b4bdf7" opacity="0.7"/>
<rect x="60.20" y="108.14" width="0.90" height="0.90" fill="#c8cffa" opacity="0.7"/>
<rect x="63.02" y="107.82" width="0.90" height="0.90" fill="#9aa6f4" opacity="0.7"/>
<rect x="59.82" y="107.80" width="0.90" height="0.90" fill="#b4bdf7" opacity="0.7"/>
<rect x="61.07" y="104.03" width="0.90" height="0.90" fill="#8190f0" opacity="0.7"/>
<rect x="58.82" y="105.93" width="0.90" height="0.90" fill="#c8cffa" opacity="0.7"/>
<rect x="59.98" y="105.19" width="0.90" height="0.90" fill="#8190f0" opacity="0.7"/>
<rect x="54.90" y="101.39" width="0.90" height="0.90" fill="#b4bdf7" opacity="0.7"/>
<rect x="56.80" y="101.87" width="0.90" height="0.90" fill="#9aa6f4" opacity="0.7"/>
<rect x="63.59" y="103.22" width="0.90" height="0.90" fill="#8190f0" opacity="0.7"/>
<rect x="56.99" y="106.55" width="0.90" height="0.90" fill="#c8cffa" opacity="0.7"/>
<rect x="58.37" y="110.17" width="0.90" height="0.90" fill="#9aa6f4" opacity="0.7"/>
<rect x="47.63" y="109.15" width="0.90" height="0.90" fill="#9aa6f4" opacity="0.7"/>
<rect x="51.92" y="107.02" width="0.90" height="0.90" fill="#b4bdf7" opacity="0.7"/>
<rect x="45.89" y="102.98" width="0.90" height="0.90" fill="#7080ee" opacity="0.7"/>
<rect x="64.19" y="103.93" width="0.90" height="0.90" fill="#b4bdf7" opacity="0.7"/>
<rect x="58.64" y="107.54" width="0.90" height="0.90" fill="#9aa6f4" opacity="0.7"/>
<rect x="54.96" y="102.93" width="0.90" height="0.90" fill="#9aa6f4" opacity="0.7"/>
<rect x="60.28" y="102.88" width="0.90" height="0.90" fill="#9aa6f4" opacity="0.7"/>
<rect x="70.50" y="106.67" width="0.90" height="0.90" fill="#7080ee" opacity="0.7"/>
<g transform="rotate(-7 75.00 102.70)"><ellipse cx="62.00" cy="103.10" rx="9.00" ry="1.9" fill="#6f7ff0" opacity="0.55"/><ellipse cx="71.50" cy="102.80" rx="10.5" ry="2.5" fill="#3a56f0" opacity="0.6"/><ellipse cx="72.50" cy="102.70" rx="9.2" ry="2.0" fill="#2040f0" opacity="0.9"/><ellipse cx="74.50" cy="102.70" rx="5.6" ry="1.75" fill="#30c0e8"/><ellipse cx="74.70" cy="102.70" rx="4.3" ry="1.4" fill="#58dc70"/><ellipse cx="75.00" cy="102.70" rx="2.9" ry="1.05" fill="#d8dc30"/><ellipse cx="75.20" cy="102.70" rx="1.7" ry="0.7" fill="#f08018"/></g>
<line x1="62.00" y1="96.60" x2="62.00" y2="151.00" stroke="#b8b8b8" stroke-width="1.0"/>
<rect x="42.50" y="96.60" width="55.10" height="54.40" fill="none" stroke="#000" stroke-width="1.1"/>
<line x1="39.70" y1="101.40" x2="42.50" y2="101.40" stroke="#000" stroke-width="0.9"/>
<line x1="40.50" y1="110.63" x2="42.50" y2="110.63" stroke="#000" stroke-width="0.7"/>
<line x1="40.50" y1="108.30" x2="42.50" y2="108.30" stroke="#000" stroke-width="0.7"/>
<line x1="40.50" y1="106.65" x2="42.50" y2="106.65" stroke="#000" stroke-width="0.7"/>
<line x1="40.50" y1="105.37" x2="42.50" y2="105.37" stroke="#000" stroke-width="0.7"/>
<line x1="40.50" y1="104.33" x2="42.50" y2="104.33" stroke="#000" stroke-width="0.7"/>
<line x1="40.50" y1="103.44" x2="42.50" y2="103.44" stroke="#000" stroke-width="0.7"/>
<line x1="40.50" y1="102.68" x2="42.50" y2="102.68" stroke="#000" stroke-width="0.7"/>
<line x1="40.50" y1="102.00" x2="42.50" y2="102.00" stroke="#000" stroke-width="0.7"/>
<line x1="39.70" y1="114.60" x2="42.50" y2="114.60" stroke="#000" stroke-width="0.9"/>
<line x1="40.50" y1="123.83" x2="42.50" y2="123.83" stroke="#000" stroke-width="0.7"/>
<line x1="40.50" y1="121.50" x2="42.50" y2="121.50" stroke="#000" stroke-width="0.7"/>
<line x1="40.50" y1="119.85" x2="42.50" y2="119.85" stroke="#000" stroke-width="0.7"/>
<line x1="40.50" y1="118.57" x2="42.50" y2="118.57" stroke="#000" stroke-width="0.7"/>
<line x1="40.50" y1="117.53" x2="42.50" y2="117.53" stroke="#000" stroke-width="0.7"/>
<line x1="40.50" y1="116.64" x2="42.50" y2="116.64" stroke="#000" stroke-width="0.7"/>
<line x1="40.50" y1="115.88" x2="42.50" y2="115.88" stroke="#000" stroke-width="0.7"/>
<line x1="40.50" y1="115.20" x2="42.50" y2="115.20" stroke="#000" stroke-width="0.7"/>
<line x1="39.70" y1="127.80" x2="42.50" y2="127.80" stroke="#000" stroke-width="0.9"/>
<line x1="40.50" y1="137.03" x2="42.50" y2="137.03" stroke="#000" stroke-width="0.7"/>
<line x1="40.50" y1="134.70" x2="42.50" y2="134.70" stroke="#000" stroke-width="0.7"/>
<line x1="40.50" y1="133.05" x2="42.50" y2="133.05" stroke="#000" stroke-width="0.7"/>
<line x1="40.50" y1="131.77" x2="42.50" y2="131.77" stroke="#000" stroke-width="0.7"/>
<line x1="40.50" y1="130.73" x2="42.50" y2="130.73" stroke="#000" stroke-width="0.7"/>
<line x1="40.50" y1="129.84" x2="42.50" y2="129.84" stroke="#000" stroke-width="0.7"/>
<line x1="40.50" y1="129.08" x2="42.50" y2="129.08" stroke="#000" stroke-width="0.7"/>
<line x1="40.50" y1="128.40" x2="42.50" y2="128.40" stroke="#000" stroke-width="0.7"/>
<line x1="40.30" y1="141.00" x2="42.50" y2="141.00" stroke="#000" stroke-width="0.8"/>
<line x1="40.30" y1="144.60" x2="42.50" y2="144.60" stroke="#000" stroke-width="0.8"/>
<line x1="40.30" y1="147.90" x2="42.50" y2="147.90" stroke="#000" stroke-width="0.8"/>
<line x1="39.80" y1="138.40" x2="42.50" y2="138.40" stroke="#000" stroke-width="1.5"/>
<line x1="49.70" y1="151.00" x2="49.70" y2="153.80" stroke="#000" stroke-width="0.9"/>
<line x1="41.10" y1="151.00" x2="41.10" y2="153.00" stroke="#000" stroke-width="0.7"/>
<line x1="43.27" y1="151.00" x2="43.27" y2="153.00" stroke="#000" stroke-width="0.7"/>
<line x1="44.81" y1="151.00" x2="44.81" y2="153.00" stroke="#000" stroke-width="0.7"/>
<line x1="46.00" y1="151.00" x2="46.00" y2="153.00" stroke="#000" stroke-width="0.7"/>
<line x1="46.97" y1="151.00" x2="46.97" y2="153.00" stroke="#000" stroke-width="0.7"/>
<line x1="47.79" y1="151.00" x2="47.79" y2="153.00" stroke="#000" stroke-width="0.7"/>
<line x1="48.51" y1="151.00" x2="48.51" y2="153.00" stroke="#000" stroke-width="0.7"/>
<line x1="49.14" y1="151.00" x2="49.14" y2="153.00" stroke="#000" stroke-width="0.7"/>
<line x1="62.00" y1="151.00" x2="62.00" y2="153.80" stroke="#000" stroke-width="0.9"/>
<line x1="53.40" y1="151.00" x2="53.40" y2="153.00" stroke="#000" stroke-width="0.7"/>
<line x1="55.57" y1="151.00" x2="55.57" y2="153.00" stroke="#000" stroke-width="0.7"/>
<line x1="57.11" y1="151.00" x2="57.11" y2="153.00" stroke="#000" stroke-width="0.7"/>
<line x1="58.30" y1="151.00" x2="58.30" y2="153.00" stroke="#000" stroke-width="0.7"/>
<line x1="59.27" y1="151.00" x2="59.27" y2="153.00" stroke="#000" stroke-width="0.7"/>
<line x1="60.09" y1="151.00" x2="60.09" y2="153.00" stroke="#000" stroke-width="0.7"/>
<line x1="60.81" y1="151.00" x2="60.81" y2="153.00" stroke="#000" stroke-width="0.7"/>
<line x1="61.44" y1="151.00" x2="61.44" y2="153.00" stroke="#000" stroke-width="0.7"/>
<line x1="74.30" y1="151.00" x2="74.30" y2="153.80" stroke="#000" stroke-width="0.9"/>
<line x1="65.70" y1="151.00" x2="65.70" y2="153.00" stroke="#000" stroke-width="0.7"/>
<line x1="67.87" y1="151.00" x2="67.87" y2="153.00" stroke="#000" stroke-width="0.7"/>
<line x1="69.41" y1="151.00" x2="69.41" y2="153.00" stroke="#000" stroke-width="0.7"/>
<line x1="70.60" y1="151.00" x2="70.60" y2="153.00" stroke="#000" stroke-width="0.7"/>
<line x1="71.57" y1="151.00" x2="71.57" y2="153.00" stroke="#000" stroke-width="0.7"/>
<line x1="72.39" y1="151.00" x2="72.39" y2="153.00" stroke="#000" stroke-width="0.7"/>
<line x1="73.11" y1="151.00" x2="73.11" y2="153.00" stroke="#000" stroke-width="0.7"/>
<line x1="73.74" y1="151.00" x2="73.74" y2="153.00" stroke="#000" stroke-width="0.7"/>
<line x1="86.60" y1="151.00" x2="86.60" y2="153.80" stroke="#000" stroke-width="0.9"/>
<line x1="78.00" y1="151.00" x2="78.00" y2="153.00" stroke="#000" stroke-width="0.7"/>
<line x1="80.17" y1="151.00" x2="80.17" y2="153.00" stroke="#000" stroke-width="0.7"/>
<line x1="81.71" y1="151.00" x2="81.71" y2="153.00" stroke="#000" stroke-width="0.7"/>
<line x1="82.90" y1="151.00" x2="82.90" y2="153.00" stroke="#000" stroke-width="0.7"/>
<line x1="83.87" y1="151.00" x2="83.87" y2="153.00" stroke="#000" stroke-width="0.7"/>
<line x1="84.69" y1="151.00" x2="84.69" y2="153.00" stroke="#000" stroke-width="0.7"/>
<line x1="85.41" y1="151.00" x2="85.41" y2="153.00" stroke="#000" stroke-width="0.7"/>
<line x1="86.04" y1="151.00" x2="86.04" y2="153.00" stroke="#000" stroke-width="0.7"/>
<line x1="90.30" y1="151.00" x2="90.30" y2="153.00" stroke="#000" stroke-width="0.7"/>
<line x1="92.47" y1="151.00" x2="92.47" y2="153.00" stroke="#000" stroke-width="0.7"/>
<line x1="94.01" y1="151.00" x2="94.01" y2="153.00" stroke="#000" stroke-width="0.7"/>
<line x1="95.20" y1="151.00" x2="95.20" y2="153.00" stroke="#000" stroke-width="0.7"/>
<line x1="96.17" y1="151.00" x2="96.17" y2="153.00" stroke="#000" stroke-width="0.7"/>
<line x1="44.60" y1="151.00" x2="44.60" y2="153.00" stroke="#000" stroke-width="0.8"/>
<line x1="46.80" y1="151.00" x2="46.80" y2="153.00" stroke="#000" stroke-width="0.8"/>
<line x1="55.00" y1="151.00" x2="55.00" y2="153.60" stroke="#000" stroke-width="1.6"/>
<text x="67.80" y="137.60" font-size="8.4" textLength="18.70" lengthAdjust="spacingAndGlyphs" font-style="italic" fill="#231f20">Crbn</text>
<text x="87.00" y="133.50" font-size="6.0" textLength="6.40" lengthAdjust="spacingAndGlyphs" fill="#231f20">-/-</text>
<text x="71.70" y="147.50" font-size="8.7" textLength="16.90" lengthAdjust="spacingAndGlyphs" fill="#231f20">95.9</text>
<line x1="30.80" y1="161.60" x2="30.80" y2="131.30" stroke="#333" stroke-width="1.1"/>
<path d="M30.80,126.30 L28.20,131.80 L33.40,131.80 Z" fill="#111"/>
<line x1="30.80" y1="161.30" x2="60.80" y2="161.30" stroke="#333" stroke-width="1.1"/>
<line x1="30.30" y1="161.30" x2="61.10" y2="161.30" stroke="#333" stroke-width="1.1"/>
<path d="M66.00,161.30 L60.60,159.00 L60.60,163.60 Z" fill="#111"/>
<text x="25.30" y="150.40" font-size="10.6" textLength="14.00" lengthAdjust="spacingAndGlyphs" fill="#231f20" transform="rotate(-90 25.30 150.40)">CD8</text>
<text x="32.80" y="173.40" font-size="10.3" textLength="31.80" lengthAdjust="spacingAndGlyphs" fill="#231f20">SIINFEKL</text>
<rect x="126.00" y="41.30" width="11.00" height="5.80" fill="#2d4b7f"/>
<text x="140.30" y="47.00" font-size="8.1" textLength="14.70" lengthAdjust="spacingAndGlyphs" fill="#231f20">OT1</text>
<rect x="126.00" y="53.10" width="11.00" height="5.80" fill="#a2022d"/>
<text x="140.30" y="58.80" font-size="8.1" textLength="17.90" lengthAdjust="spacingAndGlyphs" fill="#231f20">OT1;</text>
<g transform="translate(158.60 58.80) skewX(-10)"><text x="0" y="0" font-size="8.1" textLength="16.80" lengthAdjust="spacingAndGlyphs" fill="#231f20">Crbn</text></g>
<text x="175.80" y="54.90" font-size="4.86" textLength="5.15" lengthAdjust="spacingAndGlyphs" fill="#3a3a3a" style="stroke-width:0.1px">-/-</text>
<rect x="126.40" y="65.00" width="10.40" height="5.40" fill="#bcdb9f" stroke="#5aa840" stroke-width="1.0"/>
<text x="140.80" y="70.60" font-size="8.1" textLength="17.30" lengthAdjust="spacingAndGlyphs" fill="#231f20">FMO</text>
<path d="M126.15,142.00 L129.23,140.00 L131.54,136.15 L133.54,128.46 L134.62,119.23 L135.08,116.15 L135.85,114.62 L136.62,105.38 L137.23,94.62 L138.00,87.69 L138.62,86.00 L139.23,85.54 L139.85,86.00 L140.15,86.92 L140.77,91.54 L141.54,102.31 L142.31,116.15 L143.08,128.46 L143.85,136.15 L144.92,140.46 L146.92,141.85 L149.23,142.15 L149.23,142.30 L126.30,142.30" stroke="#5aa840" stroke-width="0.9" fill="#bcdb9f" stroke-linejoin="round"/>
<path d="M149.23,142.30 L196.70,142.30" stroke="#5aa840" stroke-width="0.9" fill="none" stroke-linejoin="round"/>
<path d="M126.15,142.15 L138.46,142.15 L140.00,141.69 L141.54,140.00 L142.77,128.46 L143.38,116.15 L144.15,93.08 L144.62,83.85 L145.08,80.00 L145.69,82.31 L146.46,86.92 L147.38,93.08 L148.46,103.85 L150.00,117.69 L152.31,123.85 L154.62,128.46 L156.92,131.54 L159.23,133.08 L161.54,134.62 L164.62,137.69 L169.23,140.77 L173.85,142.00 L196.15,142.15" stroke="#33568f" stroke-width="1.05" fill="none" stroke-linejoin="round"/>
<path d="M126.15,142.15 L139.23,142.15 L140.31,141.69 L141.54,140.00 L142.77,131.54 L143.38,119.23 L144.31,100.77 L145.38,93.08 L146.46,89.23 L147.38,88.15 L148.15,91.54 L149.23,94.62 L150.00,92.31 L150.77,91.54 L151.54,97.69 L152.31,100.77 L153.08,94.62 L153.85,90.00 L155.08,85.38 L155.85,84.15 L156.62,85.38 L157.38,87.69 L158.15,90.00 L158.92,88.15 L159.69,90.77 L160.46,93.08 L161.23,89.69 L161.85,91.54 L162.46,94.62 L163.54,100.00 L164.62,105.38 L166.15,111.54 L167.69,117.69 L169.23,123.85 L170.77,131.54 L172.00,136.92 L173.08,139.23 L175.38,140.46 L178.46,140.77 L181.54,141.54 L184.62,141.08 L187.69,141.69 L193.85,142.00 L196.15,142.15" stroke="#c0143a" stroke-width="1.05" fill="none" stroke-linejoin="round"/>
<path d="M196.70,108.0 L196.70,75.50 L126.30,75.50 L126.30,142.30 L196.70,142.30 L196.70,114.0" fill="none" stroke="#000" stroke-width="1.0"/>
<line x1="123.50" y1="142.30" x2="126.30" y2="142.30" stroke="#000" stroke-width="0.8"/>
<line x1="124.40" y1="139.66" x2="126.30" y2="139.66" stroke="#000" stroke-width="0.65"/>
<line x1="124.40" y1="137.02" x2="126.30" y2="137.02" stroke="#000" stroke-width="0.65"/>
<line x1="124.40" y1="134.38" x2="126.30" y2="134.38" stroke="#000" stroke-width="0.65"/>
<line x1="124.40" y1="131.74" x2="126.30" y2="131.74" stroke="#000" stroke-width="0.65"/>
<line x1="123.50" y1="129.10" x2="126.30" y2="129.10" stroke="#000" stroke-width="0.8"/>
<line x1="124.40" y1="126.46" x2="126.30" y2="126.46" stroke="#000" stroke-width="0.65"/>
<line x1="124.40" y1="123.82" x2="126.30" y2="123.82" stroke="#000" stroke-width="0.65"/>
<line x1="124.40" y1="121.18" x2="126.30" y2="121.18" stroke="#000" stroke-width="0.65"/>
<line x1="124.40" y1="118.54" x2="126.30" y2="118.54" stroke="#000" stroke-width="0.65"/>
<line x1="123.50" y1="115.90" x2="126.30" y2="115.90" stroke="#000" stroke-width="0.8"/>
<line x1="124.40" y1="113.26" x2="126.30" y2="113.26" stroke="#000" stroke-width="0.65"/>
<line x1="124.40" y1="110.62" x2="126.30" y2="110.62" stroke="#000" stroke-width="0.65"/>
<line x1="124.40" y1="107.98" x2="126.30" y2="107.98" stroke="#000" stroke-width="0.65"/>
<line x1="124.40" y1="105.34" x2="126.30" y2="105.34" stroke="#000" stroke-width="0.65"/>
<line x1="123.50" y1="102.70" x2="126.30" y2="102.70" stroke="#000" stroke-width="0.8"/>
<line x1="124.40" y1="100.06" x2="126.30" y2="100.06" stroke="#000" stroke-width="0.65"/>
<line x1="124.40" y1="97.42" x2="126.30" y2="97.42" stroke="#000" stroke-width="0.65"/>
<line x1="124.40" y1="94.78" x2="126.30" y2="94.78" stroke="#000" stroke-width="0.65"/>
<line x1="124.40" y1="92.14" x2="126.30" y2="92.14" stroke="#000" stroke-width="0.65"/>
<line x1="123.50" y1="89.50" x2="126.30" y2="89.50" stroke="#000" stroke-width="0.8"/>
<line x1="124.40" y1="86.86" x2="126.30" y2="86.86" stroke="#000" stroke-width="0.65"/>
<line x1="124.40" y1="84.22" x2="126.30" y2="84.22" stroke="#000" stroke-width="0.65"/>
<line x1="124.40" y1="81.58" x2="126.30" y2="81.58" stroke="#000" stroke-width="0.65"/>
<line x1="124.40" y1="78.94" x2="126.30" y2="78.94" stroke="#000" stroke-width="0.65"/>
<line x1="141.80" y1="142.30" x2="141.80" y2="144.90" stroke="#000" stroke-width="0.8"/>
<line x1="132.36" y1="142.30" x2="132.36" y2="144.00" stroke="#000" stroke-width="0.6"/>
<line x1="134.74" y1="142.30" x2="134.74" y2="144.00" stroke="#000" stroke-width="0.6"/>
<line x1="136.43" y1="142.30" x2="136.43" y2="144.00" stroke="#000" stroke-width="0.6"/>
<line x1="137.74" y1="142.30" x2="137.74" y2="144.00" stroke="#000" stroke-width="0.6"/>
<line x1="138.81" y1="142.30" x2="138.81" y2="144.00" stroke="#000" stroke-width="0.6"/>
<line x1="139.71" y1="142.30" x2="139.71" y2="144.00" stroke="#000" stroke-width="0.6"/>
<line x1="140.49" y1="142.30" x2="140.49" y2="144.00" stroke="#000" stroke-width="0.6"/>
<line x1="141.18" y1="142.30" x2="141.18" y2="144.00" stroke="#000" stroke-width="0.6"/>
<line x1="155.30" y1="142.30" x2="155.30" y2="144.90" stroke="#000" stroke-width="0.8"/>
<line x1="145.86" y1="142.30" x2="145.86" y2="144.00" stroke="#000" stroke-width="0.6"/>
<line x1="148.24" y1="142.30" x2="148.24" y2="144.00" stroke="#000" stroke-width="0.6"/>
<line x1="149.93" y1="142.30" x2="149.93" y2="144.00" stroke="#000" stroke-width="0.6"/>
<line x1="151.24" y1="142.30" x2="151.24" y2="144.00" stroke="#000" stroke-width="0.6"/>
<line x1="152.31" y1="142.30" x2="152.31" y2="144.00" stroke="#000" stroke-width="0.6"/>
<line x1="153.21" y1="142.30" x2="153.21" y2="144.00" stroke="#000" stroke-width="0.6"/>
<line x1="153.99" y1="142.30" x2="153.99" y2="144.00" stroke="#000" stroke-width="0.6"/>
<line x1="154.68" y1="142.30" x2="154.68" y2="144.00" stroke="#000" stroke-width="0.6"/>
<line x1="168.80" y1="142.30" x2="168.80" y2="144.90" stroke="#000" stroke-width="0.8"/>
<line x1="159.36" y1="142.30" x2="159.36" y2="144.00" stroke="#000" stroke-width="0.6"/>
<line x1="161.74" y1="142.30" x2="161.74" y2="144.00" stroke="#000" stroke-width="0.6"/>
<line x1="163.43" y1="142.30" x2="163.43" y2="144.00" stroke="#000" stroke-width="0.6"/>
<line x1="164.74" y1="142.30" x2="164.74" y2="144.00" stroke="#000" stroke-width="0.6"/>
<line x1="165.81" y1="142.30" x2="165.81" y2="144.00" stroke="#000" stroke-width="0.6"/>
<line x1="166.71" y1="142.30" x2="166.71" y2="144.00" stroke="#000" stroke-width="0.6"/>
<line x1="167.49" y1="142.30" x2="167.49" y2="144.00" stroke="#000" stroke-width="0.6"/>
<line x1="168.18" y1="142.30" x2="168.18" y2="144.00" stroke="#000" stroke-width="0.6"/>
<line x1="182.30" y1="142.30" x2="182.30" y2="144.90" stroke="#000" stroke-width="0.8"/>
<line x1="172.86" y1="142.30" x2="172.86" y2="144.00" stroke="#000" stroke-width="0.6"/>
<line x1="175.24" y1="142.30" x2="175.24" y2="144.00" stroke="#000" stroke-width="0.6"/>
<line x1="176.93" y1="142.30" x2="176.93" y2="144.00" stroke="#000" stroke-width="0.6"/>
<line x1="178.24" y1="142.30" x2="178.24" y2="144.00" stroke="#000" stroke-width="0.6"/>
<line x1="179.31" y1="142.30" x2="179.31" y2="144.00" stroke="#000" stroke-width="0.6"/>
<line x1="180.21" y1="142.30" x2="180.21" y2="144.00" stroke="#000" stroke-width="0.6"/>
<line x1="180.99" y1="142.30" x2="180.99" y2="144.00" stroke="#000" stroke-width="0.6"/>
<line x1="181.68" y1="142.30" x2="181.68" y2="144.00" stroke="#000" stroke-width="0.6"/>
<line x1="195.80" y1="142.30" x2="195.80" y2="144.90" stroke="#000" stroke-width="0.8"/>
<line x1="186.36" y1="142.30" x2="186.36" y2="144.00" stroke="#000" stroke-width="0.6"/>
<line x1="188.74" y1="142.30" x2="188.74" y2="144.00" stroke="#000" stroke-width="0.6"/>
<line x1="190.43" y1="142.30" x2="190.43" y2="144.00" stroke="#000" stroke-width="0.6"/>
<line x1="191.74" y1="142.30" x2="191.74" y2="144.00" stroke="#000" stroke-width="0.6"/>
<line x1="192.81" y1="142.30" x2="192.81" y2="144.00" stroke="#000" stroke-width="0.6"/>
<line x1="193.71" y1="142.30" x2="193.71" y2="144.00" stroke="#000" stroke-width="0.6"/>
<line x1="194.49" y1="142.30" x2="194.49" y2="144.00" stroke="#000" stroke-width="0.6"/>
<line x1="195.18" y1="142.30" x2="195.18" y2="144.00" stroke="#000" stroke-width="0.6"/>
<line x1="129.50" y1="142.30" x2="129.50" y2="144.10" stroke="#000" stroke-width="0.6"/>
<line x1="133.00" y1="142.30" x2="133.00" y2="144.10" stroke="#000" stroke-width="0.6"/>
<circle cx="141.8" cy="143.5" r="1.35" fill="#000"/>
<line x1="152.10" y1="90.60" x2="194.00" y2="90.60" stroke="#333" stroke-width="1.1"/>
<line x1="152.10" y1="89.20" x2="152.10" y2="92.00" stroke="#333" stroke-width="1.0"/>
<line x1="194.00" y1="89.20" x2="194.00" y2="92.00" stroke="#333" stroke-width="1.0"/>
<line x1="185.40" y1="111.10" x2="200.80" y2="111.10" stroke="#555" stroke-width="1.2"/>
<path d="M205.50,111.10 L200.30,108.70 L200.30,113.50 Z" fill="#111"/>
<line x1="124.60" y1="148.70" x2="148.50" y2="148.70" stroke="#222" stroke-width="1.2"/>
<path d="M153.60,148.70 L148.00,146.30 L148.00,151.10 Z" fill="#111"/>
<text x="129.30" y="160.60" font-size="10.4" textLength="19.60" lengthAdjust="spacingAndGlyphs" fill="#231f20">CD69</text>
<circle cx="263.7" cy="28.2" r="1.8" fill="#22479a"/>
<text x="268.90" y="30.80" font-size="8.1" textLength="15.10" lengthAdjust="spacingAndGlyphs" fill="#231f20">OT1</text>
<rect x="290.90" y="26.40" width="3.60" height="3.40" fill="#ba0028"/>
<text x="297.40" y="30.80" font-size="8.1" textLength="17.10" lengthAdjust="spacingAndGlyphs" fill="#231f20">OT1;</text>
<g transform="translate(314.50 30.80) skewX(-10)"><text x="0" y="0" font-size="8.1" textLength="16.40" lengthAdjust="spacingAndGlyphs" fill="#231f20">Crbn</text></g>
<text x="331.30" y="26.90" font-size="4.86" textLength="5.15" lengthAdjust="spacingAndGlyphs" fill="#3a3a3a" style="stroke-width:0.1px">-/-</text>
<text x="319.50" y="44.20" font-size="8.0" textLength="18.40" lengthAdjust="spacingAndGlyphs" text-anchor="middle" fill="#231f20">+IL-2</text>
<line x1="292.30" y1="48.80" x2="346.20" y2="48.80" stroke="#666" stroke-width="1.4"/>
<text x="443.80" y="43.60" font-size="8.0" textLength="16.40" lengthAdjust="spacingAndGlyphs" text-anchor="middle" fill="#231f20">-IL-2</text>
<line x1="416.00" y1="48.30" x2="471.60" y2="48.30" stroke="#555" stroke-width="1.3"/>
<text x="239.40" y="118.80" font-size="10.4" textLength="33.00" lengthAdjust="spacingAndGlyphs" fill="#231f20" transform="rotate(-90 239.40 118.80)">% CD69+</text>
<line x1="265.40" y1="60.40" x2="265.40" y2="142.80" stroke="#000" stroke-width="1.2"/>
<line x1="264.80" y1="142.30" x2="375.40" y2="142.30" stroke="#000" stroke-width="1.2"/>
<line x1="262.50" y1="63.30" x2="265.40" y2="63.30" stroke="#000" stroke-width="1.0"/>
<text x="258.90" y="66.20" font-size="8.1" textLength="13.00" lengthAdjust="spacingAndGlyphs" text-anchor="end" fill="#231f20">100</text>
<line x1="262.50" y1="77.00" x2="265.40" y2="77.00" stroke="#000" stroke-width="1.0"/>
<text x="258.90" y="79.90" font-size="8.1" textLength="8.70" lengthAdjust="spacingAndGlyphs" text-anchor="end" fill="#231f20">80</text>
<line x1="262.50" y1="93.00" x2="265.40" y2="93.00" stroke="#000" stroke-width="1.0"/>
<text x="258.90" y="95.90" font-size="8.1" textLength="8.70" lengthAdjust="spacingAndGlyphs" text-anchor="end" fill="#231f20">60</text>
<line x1="262.50" y1="109.20" x2="265.40" y2="109.20" stroke="#000" stroke-width="1.0"/>
<text x="258.90" y="112.10" font-size="8.1" textLength="8.70" lengthAdjust="spacingAndGlyphs" text-anchor="end" fill="#231f20">40</text>
<line x1="262.50" y1="125.70" x2="265.40" y2="125.70" stroke="#000" stroke-width="1.0"/>
<text x="258.90" y="128.60" font-size="8.1" textLength="8.70" lengthAdjust="spacingAndGlyphs" text-anchor="end" fill="#231f20">20</text>
<line x1="262.50" y1="142.20" x2="265.40" y2="142.20" stroke="#000" stroke-width="1.0"/>
<text x="258.90" y="145.10" font-size="8.1" textLength="4.40" lengthAdjust="spacingAndGlyphs" text-anchor="end" fill="#231f20">0</text>
<line x1="279.40" y1="142.30" x2="279.40" y2="144.60" stroke="#000" stroke-width="1.0"/>
<text x="279.40" y="155.60" font-size="9.0" textLength="10.71" lengthAdjust="spacingAndGlyphs" text-anchor="middle" fill="#231f20">N4</text>
<line x1="306.70" y1="142.30" x2="306.70" y2="144.60" stroke="#000" stroke-width="1.0"/>
<text x="306.70" y="155.60" font-size="9.0" textLength="10.51" lengthAdjust="spacingAndGlyphs" text-anchor="middle" fill="#231f20">A2</text>
<line x1="334.40" y1="142.30" x2="334.40" y2="144.60" stroke="#000" stroke-width="1.0"/>
<text x="334.40" y="155.60" font-size="9.0" textLength="11.33" lengthAdjust="spacingAndGlyphs" text-anchor="middle" fill="#231f20">G4</text>
<line x1="361.50" y1="142.30" x2="361.50" y2="144.60" stroke="#000" stroke-width="1.0"/>
<text x="361.50" y="155.60" font-size="9.0" textLength="17.30" lengthAdjust="spacingAndGlyphs" text-anchor="middle" fill="#231f20">Trp2</text>
<line x1="270.20" y1="65.70" x2="288.60" y2="65.70" stroke="#5a5a5a" stroke-width="1.5"/>
<circle cx="274.15" cy="61.80" r="1.1" fill="#1a1a1a"/>
<circle cx="277.65" cy="61.80" r="1.1" fill="#1a1a1a"/>
<circle cx="281.15" cy="61.80" r="1.1" fill="#1a1a1a"/>
<circle cx="284.65" cy="61.80" r="1.1" fill="#1a1a1a"/>
<circle cx="274.20" cy="88.40" r="2.0" fill="#22479a"/>
<circle cx="274.50" cy="93.10" r="2.0" fill="#22479a"/>
<circle cx="273.90" cy="91.50" r="2.0" fill="#22479a"/>
<line x1="271.20" y1="91.30" x2="277.60" y2="91.30" stroke="#000" stroke-width="1.25"/>
<line x1="274.40" y1="90.30" x2="274.40" y2="92.30" stroke="#000" stroke-width="1.25"/>
<line x1="272.90" y1="90.30" x2="275.90" y2="90.30" stroke="#000" stroke-width="0.8"/>
<line x1="272.90" y1="92.30" x2="275.90" y2="92.30" stroke="#000" stroke-width="0.8"/>
<rect x="282.80" y="69.70" width="4.00" height="4.00" fill="#ba0028"/>
<rect x="286.20" y="74.00" width="4.00" height="4.00" fill="#ba0028"/>
<rect x="281.20" y="77.50" width="4.00" height="4.00" fill="#ba0028"/>
<line x1="281.70" y1="75.80" x2="288.30" y2="75.80" stroke="#000" stroke-width="1.25"/>
<line x1="285.00" y1="74.40" x2="285.00" y2="77.20" stroke="#000" stroke-width="1.25"/>
<line x1="283.50" y1="74.40" x2="286.50" y2="74.40" stroke="#000" stroke-width="0.8"/>
<line x1="283.50" y1="77.20" x2="286.50" y2="77.20" stroke="#000" stroke-width="0.8"/>
<line x1="297.30" y1="87.10" x2="315.20" y2="87.10" stroke="#5a5a5a" stroke-width="1.5"/>
<circle cx="301.00" cy="83.20" r="1.1" fill="#1a1a1a"/>
<circle cx="304.50" cy="83.20" r="1.1" fill="#1a1a1a"/>
<circle cx="308.00" cy="83.20" r="1.1" fill="#1a1a1a"/>
<circle cx="311.50" cy="83.20" r="1.1" fill="#1a1a1a"/>
<circle cx="301.10" cy="111.30" r="2.0" fill="#22479a"/>
<circle cx="302.30" cy="111.00" r="2.0" fill="#22479a"/>
<circle cx="301.70" cy="111.60" r="2.0" fill="#22479a"/>
<line x1="298.40" y1="111.30" x2="305.00" y2="111.30" stroke="#000" stroke-width="1.25"/>
<line x1="301.70" y1="111.00" x2="301.70" y2="111.60" stroke="#000" stroke-width="1.25"/>
<line x1="300.20" y1="111.00" x2="303.20" y2="111.00" stroke="#000" stroke-width="0.8"/>
<line x1="300.20" y1="111.60" x2="303.20" y2="111.60" stroke="#000" stroke-width="0.8"/>
<rect x="309.70" y="95.70" width="4.00" height="4.00" fill="#ba0028"/>
<rect x="309.70" y="98.60" width="4.00" height="4.00" fill="#ba0028"/>
<rect x="309.70" y="102.00" width="4.00" height="4.00" fill="#ba0028"/>
<line x1="308.50" y1="100.60" x2="314.90" y2="100.60" stroke="#000" stroke-width="1.25"/>
<line x1="311.70" y1="98.80" x2="311.70" y2="102.40" stroke="#000" stroke-width="1.25"/>
<line x1="310.20" y1="98.80" x2="313.20" y2="98.80" stroke="#000" stroke-width="0.8"/>
<line x1="310.20" y1="102.40" x2="313.20" y2="102.40" stroke="#000" stroke-width="0.8"/>
<line x1="325.20" y1="129.80" x2="343.60" y2="129.80" stroke="#5a5a5a" stroke-width="1.5"/>
<text x="334.40" y="124.90" font-size="7.6" textLength="12.00" lengthAdjust="spacingAndGlyphs" text-anchor="middle" fill="#231f20">n.s.</text>
<circle cx="328.50" cy="138.40" r="2.0" fill="#22479a"/>
<circle cx="329.50" cy="138.40" r="2.0" fill="#22479a"/>
<line x1="326.00" y1="138.40" x2="332.00" y2="138.40" stroke="#000" stroke-width="1.25"/>
<line x1="329.00" y1="138.10" x2="329.00" y2="138.70" stroke="#000" stroke-width="1.25"/>
<line x1="327.50" y1="138.10" x2="330.50" y2="138.10" stroke="#000" stroke-width="0.8"/>
<line x1="327.50" y1="138.70" x2="330.50" y2="138.70" stroke="#000" stroke-width="0.8"/>
<rect x="337.10" y="137.60" width="4.00" height="4.00" fill="#ba0028"/>
<rect x="338.10" y="137.60" width="4.00" height="4.00" fill="#ba0028"/>
<line x1="336.60" y1="139.60" x2="342.60" y2="139.60" stroke="#000" stroke-width="1.25"/>
<line x1="339.60" y1="139.30" x2="339.60" y2="139.90" stroke="#000" stroke-width="1.25"/>
<line x1="338.10" y1="139.30" x2="341.10" y2="139.30" stroke="#000" stroke-width="0.8"/>
<line x1="338.10" y1="139.90" x2="341.10" y2="139.90" stroke="#000" stroke-width="0.8"/>
<line x1="352.10" y1="129.80" x2="370.20" y2="129.80" stroke="#5a5a5a" stroke-width="1.5"/>
<text x="361.15" y="124.90" font-size="7.6" textLength="12.00" lengthAdjust="spacingAndGlyphs" text-anchor="middle" fill="#231f20">n.s.</text>
<circle cx="355.20" cy="138.40" r="2.0" fill="#22479a"/>
<circle cx="359.40" cy="137.60" r="2.0" fill="#22479a"/>
<line x1="353.80" y1="138.20" x2="360.20" y2="138.20" stroke="#000" stroke-width="1.25"/>
<line x1="357.00" y1="137.80" x2="357.00" y2="138.60" stroke="#000" stroke-width="1.25"/>
<line x1="355.50" y1="137.80" x2="358.50" y2="137.80" stroke="#000" stroke-width="0.8"/>
<line x1="355.50" y1="138.60" x2="358.50" y2="138.60" stroke="#000" stroke-width="0.8"/>
<rect x="364.30" y="136.70" width="4.00" height="4.00" fill="#ba0028"/>
<rect x="365.10" y="136.40" width="4.00" height="4.00" fill="#ba0028"/>
<line x1="363.70" y1="138.60" x2="369.70" y2="138.60" stroke="#000" stroke-width="1.25"/>
<line x1="366.70" y1="138.30" x2="366.70" y2="138.90" stroke="#000" stroke-width="1.25"/>
<line x1="365.20" y1="138.30" x2="368.20" y2="138.30" stroke="#000" stroke-width="0.8"/>
<line x1="365.20" y1="138.90" x2="368.20" y2="138.90" stroke="#000" stroke-width="0.8"/>
<line x1="388.30" y1="56.00" x2="388.30" y2="142.80" stroke="#000" stroke-width="1.2"/>
<line x1="387.70" y1="142.20" x2="497.50" y2="142.20" stroke="#000" stroke-width="1.2"/>
<line x1="385.40" y1="58.60" x2="388.30" y2="58.60" stroke="#000" stroke-width="1.0"/>
<line x1="385.40" y1="75.50" x2="388.30" y2="75.50" stroke="#000" stroke-width="1.0"/>
<line x1="385.40" y1="92.50" x2="388.30" y2="92.50" stroke="#000" stroke-width="1.0"/>
<line x1="385.40" y1="109.20" x2="388.30" y2="109.20" stroke="#000" stroke-width="1.0"/>
<line x1="385.40" y1="125.60" x2="388.30" y2="125.60" stroke="#000" stroke-width="1.0"/>
<line x1="385.40" y1="142.00" x2="388.30" y2="142.00" stroke="#000" stroke-width="1.0"/>
<line x1="401.50" y1="142.20" x2="401.50" y2="144.50" stroke="#000" stroke-width="1.0"/>
<text x="401.50" y="155.30" font-size="9.0" textLength="10.71" lengthAdjust="spacingAndGlyphs" text-anchor="middle" fill="#231f20">N4</text>
<line x1="428.00" y1="142.20" x2="428.00" y2="144.50" stroke="#000" stroke-width="1.0"/>
<text x="428.00" y="155.30" font-size="9.0" textLength="10.51" lengthAdjust="spacingAndGlyphs" text-anchor="middle" fill="#231f20">A2</text>
<line x1="454.60" y1="142.20" x2="454.60" y2="144.50" stroke="#000" stroke-width="1.0"/>
<text x="454.60" y="155.30" font-size="9.0" textLength="11.33" lengthAdjust="spacingAndGlyphs" text-anchor="middle" fill="#231f20">G4</text>
<line x1="481.10" y1="142.20" x2="481.10" y2="144.50" stroke="#000" stroke-width="1.0"/>
<text x="481.10" y="155.30" font-size="9.0" textLength="17.30" lengthAdjust="spacingAndGlyphs" text-anchor="middle" fill="#231f20">Trp2</text>
<line x1="393.10" y1="66.40" x2="411.50" y2="66.40" stroke="#5a5a5a" stroke-width="1.5"/>
<circle cx="400.55" cy="62.50" r="1.1" fill="#1a1a1a"/>
<circle cx="404.05" cy="62.50" r="1.1" fill="#1a1a1a"/>
<circle cx="396.50" cy="85.80" r="2.0" fill="#22479a"/>
<circle cx="399.40" cy="89.60" r="2.0" fill="#22479a"/>
<circle cx="394.80" cy="94.40" r="2.0" fill="#22479a"/>
<line x1="393.00" y1="90.10" x2="399.60" y2="90.10" stroke="#000" stroke-width="1.25"/>
<line x1="396.30" y1="87.80" x2="396.30" y2="92.40" stroke="#000" stroke-width="1.25"/>
<line x1="394.80" y1="87.80" x2="397.80" y2="87.80" stroke="#000" stroke-width="0.8"/>
<line x1="394.80" y1="92.40" x2="397.80" y2="92.40" stroke="#000" stroke-width="0.8"/>
<rect x="404.30" y="74.50" width="4.00" height="4.00" fill="#ba0028"/>
<rect x="407.20" y="78.20" width="4.00" height="4.00" fill="#ba0028"/>
<rect x="402.60" y="82.00" width="4.00" height="4.00" fill="#ba0028"/>
<line x1="403.20" y1="80.60" x2="409.80" y2="80.60" stroke="#000" stroke-width="1.25"/>
<line x1="406.50" y1="78.60" x2="406.50" y2="82.60" stroke="#000" stroke-width="1.25"/>
<line x1="405.00" y1="78.60" x2="408.00" y2="78.60" stroke="#000" stroke-width="0.8"/>
<line x1="405.00" y1="82.60" x2="408.00" y2="82.60" stroke="#000" stroke-width="0.8"/>
<line x1="418.40" y1="97.30" x2="436.30" y2="97.30" stroke="#5a5a5a" stroke-width="1.5"/>
<circle cx="423.85" cy="93.40" r="1.1" fill="#1a1a1a"/>
<circle cx="427.35" cy="93.40" r="1.1" fill="#1a1a1a"/>
<circle cx="430.85" cy="93.40" r="1.1" fill="#1a1a1a"/>
<circle cx="422.70" cy="121.10" r="2.0" fill="#22479a"/>
<circle cx="422.70" cy="125.60" r="2.0" fill="#22479a"/>
<line x1="419.50" y1="122.90" x2="425.90" y2="122.90" stroke="#000" stroke-width="1.25"/>
<line x1="422.70" y1="121.50" x2="422.70" y2="124.30" stroke="#000" stroke-width="1.25"/>
<line x1="421.20" y1="121.50" x2="424.20" y2="121.50" stroke="#000" stroke-width="0.8"/>
<line x1="421.20" y1="124.30" x2="424.20" y2="124.30" stroke="#000" stroke-width="0.8"/>
<rect x="430.40" y="105.00" width="4.00" height="4.00" fill="#ba0028"/>
<rect x="429.10" y="111.80" width="4.00" height="4.00" fill="#ba0028"/>
<rect x="433.70" y="111.40" width="4.00" height="4.00" fill="#ba0028"/>
<line x1="429.60" y1="111.90" x2="436.00" y2="111.90" stroke="#000" stroke-width="1.25"/>
<line x1="432.80" y1="109.70" x2="432.80" y2="114.10" stroke="#000" stroke-width="1.25"/>
<line x1="431.30" y1="109.70" x2="434.30" y2="109.70" stroke="#000" stroke-width="0.8"/>
<line x1="431.30" y1="114.10" x2="434.30" y2="114.10" stroke="#000" stroke-width="0.8"/>
<line x1="445.60" y1="124.40" x2="463.90" y2="124.40" stroke="#5a5a5a" stroke-width="1.5"/>
<text x="454.75" y="119.80" font-size="7.6" textLength="12.00" lengthAdjust="spacingAndGlyphs" text-anchor="middle" fill="#231f20">n.s.</text>
<circle cx="448.90" cy="134.80" r="2.0" fill="#22479a"/>
<circle cx="448.90" cy="138.40" r="2.0" fill="#22479a"/>
<line x1="445.90" y1="137.90" x2="451.90" y2="137.90" stroke="#000" stroke-width="1.25"/>
<line x1="448.90" y1="137.10" x2="448.90" y2="138.70" stroke="#000" stroke-width="1.25"/>
<line x1="447.40" y1="137.10" x2="450.40" y2="137.10" stroke="#000" stroke-width="0.8"/>
<line x1="447.40" y1="138.70" x2="450.40" y2="138.70" stroke="#000" stroke-width="0.8"/>
<rect x="456.70" y="137.00" width="4.00" height="4.00" fill="#ba0028"/>
<rect x="457.90" y="136.60" width="4.00" height="4.00" fill="#ba0028"/>
<line x1="456.30" y1="139.00" x2="462.30" y2="139.00" stroke="#000" stroke-width="1.25"/>
<line x1="459.30" y1="138.70" x2="459.30" y2="139.30" stroke="#000" stroke-width="1.25"/>
<line x1="457.80" y1="138.70" x2="460.80" y2="138.70" stroke="#000" stroke-width="0.8"/>
<line x1="457.80" y1="139.30" x2="460.80" y2="139.30" stroke="#000" stroke-width="0.8"/>
<line x1="471.20" y1="124.40" x2="489.50" y2="124.40" stroke="#5a5a5a" stroke-width="1.5"/>
<text x="480.35" y="119.80" font-size="7.6" textLength="12.00" lengthAdjust="spacingAndGlyphs" text-anchor="middle" fill="#231f20">n.s.</text>
<circle cx="475.90" cy="135.30" r="2.0" fill="#22479a"/>
<circle cx="476.30" cy="137.40" r="2.0" fill="#22479a"/>
<line x1="472.70" y1="134.80" x2="479.10" y2="134.80" stroke="#000" stroke-width="1.25"/>
<line x1="475.90" y1="134.20" x2="475.90" y2="135.40" stroke="#000" stroke-width="1.25"/>
<line x1="474.40" y1="134.20" x2="477.40" y2="134.20" stroke="#000" stroke-width="0.8"/>
<line x1="474.40" y1="135.40" x2="477.40" y2="135.40" stroke="#000" stroke-width="0.8"/>
<rect x="484.00" y="132.80" width="4.00" height="4.00" fill="#ba0028"/>
<rect x="484.00" y="135.90" width="4.00" height="4.00" fill="#ba0028"/>
<line x1="482.80" y1="137.20" x2="489.20" y2="137.20" stroke="#000" stroke-width="1.25"/>
<line x1="486.00" y1="136.40" x2="486.00" y2="138.00" stroke="#000" stroke-width="1.25"/>
<line x1="484.50" y1="136.40" x2="487.50" y2="136.40" stroke="#000" stroke-width="0.8"/>
<line x1="484.50" y1="138.00" x2="487.50" y2="138.00" stroke="#000" stroke-width="0.8"/>
<rect x="57.50" y="237.00" width="6.60" height="75.90" fill="#8e95b7"/>
<rect x="69.20" y="240.80" width="6.60" height="72.10" fill="#ce8d7f"/>
<circle cx="58.60" cy="236.60" r="1.35" fill="#22479a"/>
<circle cx="62.90" cy="237.10" r="1.35" fill="#22479a"/>
<circle cx="60.80" cy="240.40" r="1.35" fill="#22479a"/>
<circle cx="60.80" cy="237.60" r="1.35" fill="#22479a"/>
<circle cx="70.00" cy="239.60" r="1.35" fill="#ba0028"/>
<circle cx="74.60" cy="239.60" r="1.35" fill="#ba0028"/>
<circle cx="72.30" cy="242.00" r="1.35" fill="#ba0028"/>
<circle cx="72.30" cy="240.60" r="1.35" fill="#ba0028"/>
<rect x="88.30" y="235.60" width="6.60" height="77.30" fill="#8e95b7"/>
<rect x="100.00" y="237.70" width="6.60" height="75.20" fill="#ce8d7f"/>
<circle cx="89.30" cy="235.60" r="1.35" fill="#22479a"/>
<circle cx="91.60" cy="235.80" r="1.35" fill="#22479a"/>
<circle cx="93.90" cy="235.60" r="1.35" fill="#22479a"/>
<circle cx="101.00" cy="237.60" r="1.35" fill="#ba0028"/>
<circle cx="103.30" cy="239.00" r="1.35" fill="#ba0028"/>
<circle cx="105.60" cy="237.60" r="1.35" fill="#ba0028"/>
<rect x="119.00" y="296.00" width="6.60" height="16.90" fill="#8e95b7"/>
<rect x="130.50" y="262.40" width="6.60" height="50.50" fill="#ce8d7f"/>
<circle cx="120.20" cy="290.90" r="1.35" fill="#22479a"/>
<circle cx="124.40" cy="292.40" r="1.35" fill="#22479a"/>
<circle cx="122.30" cy="301.20" r="1.35" fill="#22479a"/>
<circle cx="122.30" cy="295.00" r="1.35" fill="#22479a"/>
<circle cx="131.90" cy="260.00" r="1.35" fill="#ba0028"/>
<circle cx="135.90" cy="260.60" r="1.35" fill="#ba0028"/>
<circle cx="131.70" cy="267.30" r="1.35" fill="#ba0028"/>
<circle cx="134.00" cy="262.50" r="1.35" fill="#ba0028"/>
<line x1="51.30" y1="231.60" x2="51.30" y2="313.40" stroke="#000" stroke-width="1.2"/>
<line x1="50.70" y1="312.90" x2="143.80" y2="312.90" stroke="#000" stroke-width="1.2"/>
<line x1="48.90" y1="235.30" x2="51.30" y2="235.30" stroke="#000" stroke-width="1.0"/>
<line x1="48.90" y1="251.00" x2="51.30" y2="251.00" stroke="#000" stroke-width="1.0"/>
<line x1="48.90" y1="266.60" x2="51.30" y2="266.60" stroke="#000" stroke-width="1.0"/>
<line x1="48.90" y1="281.90" x2="51.30" y2="281.90" stroke="#000" stroke-width="1.0"/>
<line x1="48.90" y1="297.40" x2="51.30" y2="297.40" stroke="#000" stroke-width="1.0"/>
<line x1="48.90" y1="312.70" x2="51.30" y2="312.70" stroke="#000" stroke-width="1.0"/>
<line x1="66.60" y1="312.90" x2="66.60" y2="315.40" stroke="#000" stroke-width="1.0"/>
<line x1="96.90" y1="312.90" x2="96.90" y2="315.40" stroke="#000" stroke-width="1.0"/>
<line x1="127.70" y1="312.90" x2="127.70" y2="315.40" stroke="#000" stroke-width="1.0"/>
<text x="71.60" y="213.60" font-size="9.6" textLength="51.20" lengthAdjust="spacingAndGlyphs" fill="#231f20">N4 peptide</text>
<line x1="59.45" y1="237.05" x2="62.15" y2="239.75" stroke="#000" stroke-width="1.3"/>
<line x1="59.45" y1="239.75" x2="62.15" y2="237.05" stroke="#000" stroke-width="1.3"/>
<line x1="70.95" y1="239.85" x2="73.65" y2="242.55" stroke="#000" stroke-width="1.3"/>
<line x1="70.95" y1="242.55" x2="73.65" y2="239.85" stroke="#000" stroke-width="1.3"/>
<line x1="90.25" y1="234.55" x2="92.95" y2="237.25" stroke="#000" stroke-width="1.3"/>
<line x1="90.25" y1="237.25" x2="92.95" y2="234.55" stroke="#000" stroke-width="1.3"/>
<line x1="101.95" y1="236.85" x2="104.65" y2="239.55" stroke="#000" stroke-width="1.3"/>
<line x1="101.95" y1="239.55" x2="104.65" y2="236.85" stroke="#000" stroke-width="1.3"/>
<line x1="120.95" y1="293.85" x2="123.65" y2="296.55" stroke="#000" stroke-width="1.3"/>
<line x1="120.95" y1="296.55" x2="123.65" y2="293.85" stroke="#000" stroke-width="1.3"/>
<line x1="132.55" y1="261.05" x2="135.25" y2="263.75" stroke="#000" stroke-width="1.3"/>
<line x1="132.55" y1="263.75" x2="135.25" y2="261.05" stroke="#000" stroke-width="1.3"/>
<text x="44.60" y="238.20" font-size="8.1" textLength="13.00" lengthAdjust="spacingAndGlyphs" text-anchor="end" fill="#231f20">100</text>
<text x="44.60" y="253.90" font-size="8.1" textLength="8.70" lengthAdjust="spacingAndGlyphs" text-anchor="end" fill="#231f20">80</text>
<text x="44.60" y="269.50" font-size="8.1" textLength="8.70" lengthAdjust="spacingAndGlyphs" text-anchor="end" fill="#231f20">60</text>
<text x="44.60" y="284.80" font-size="8.1" textLength="8.70" lengthAdjust="spacingAndGlyphs" text-anchor="end" fill="#231f20">40</text>
<text x="44.60" y="300.30" font-size="8.1" textLength="8.70" lengthAdjust="spacingAndGlyphs" text-anchor="end" fill="#231f20">20</text>
<text x="44.60" y="315.60" font-size="8.1" textLength="4.40" lengthAdjust="spacingAndGlyphs" text-anchor="end" fill="#231f20">0</text>
<text x="25.20" y="289.60" font-size="10.4" textLength="33.40" lengthAdjust="spacingAndGlyphs" fill="#231f20" transform="rotate(-90 25.20 289.60)">% CD69+</text>
<line x1="58.80" y1="231.20" x2="76.50" y2="231.20" stroke="#5a5a5a" stroke-width="1.5"/>
<text x="67.65" y="226.00" font-size="7.6" textLength="11.40" lengthAdjust="spacingAndGlyphs" text-anchor="middle" fill="#231f20">n.s.</text>
<line x1="89.20" y1="231.20" x2="106.50" y2="231.20" stroke="#5a5a5a" stroke-width="1.5"/>
<text x="97.85" y="226.00" font-size="7.6" textLength="11.40" lengthAdjust="spacingAndGlyphs" text-anchor="middle" fill="#231f20">n.s.</text>
<line x1="118.90" y1="252.90" x2="137.10" y2="252.90" stroke="#5a5a5a" stroke-width="1.5"/>
<circle cx="122.75" cy="249.00" r="1.1" fill="#1a1a1a"/>
<circle cx="126.25" cy="249.00" r="1.1" fill="#1a1a1a"/>
<circle cx="129.75" cy="249.00" r="1.1" fill="#1a1a1a"/>
<circle cx="133.25" cy="249.00" r="1.1" fill="#1a1a1a"/>
<text x="66.60" y="327.20" font-size="8.8" textLength="9.60" lengthAdjust="spacingAndGlyphs" text-anchor="middle" fill="#231f20">24</text>
<text x="96.90" y="327.20" font-size="8.8" textLength="9.60" lengthAdjust="spacingAndGlyphs" text-anchor="middle" fill="#231f20">48</text>
<text x="127.70" y="327.20" font-size="8.8" textLength="9.60" lengthAdjust="spacingAndGlyphs" text-anchor="middle" fill="#231f20">72</text>
<rect x="160.00" y="241.60" width="6.60" height="71.30" fill="#8e95b7"/>
<rect x="172.30" y="246.50" width="6.60" height="66.40" fill="#ce8d7f"/>
<circle cx="161.20" cy="241.30" r="1.35" fill="#22479a"/>
<circle cx="163.50" cy="242.40" r="1.35" fill="#22479a"/>
<circle cx="165.80" cy="241.30" r="1.35" fill="#22479a"/>
<circle cx="163.50" cy="241.80" r="1.35" fill="#22479a"/>
<circle cx="173.40" cy="245.20" r="1.35" fill="#ba0028"/>
<circle cx="175.60" cy="247.50" r="1.35" fill="#ba0028"/>
<circle cx="177.80" cy="245.60" r="1.35" fill="#ba0028"/>
<circle cx="175.60" cy="244.00" r="1.35" fill="#ba0028"/>
<rect x="192.30" y="234.80" width="6.60" height="78.10" fill="#8e95b7"/>
<rect x="204.40" y="238.00" width="6.60" height="74.90" fill="#ce8d7f"/>
<circle cx="193.30" cy="234.60" r="1.35" fill="#22479a"/>
<circle cx="195.60" cy="234.90" r="1.35" fill="#22479a"/>
<circle cx="197.90" cy="234.60" r="1.35" fill="#22479a"/>
<circle cx="205.40" cy="237.60" r="1.35" fill="#ba0028"/>
<circle cx="207.70" cy="239.00" r="1.35" fill="#ba0028"/>
<circle cx="210.00" cy="237.60" r="1.35" fill="#ba0028"/>
<rect x="225.00" y="301.20" width="6.60" height="11.70" fill="#8e95b7"/>
<rect x="237.00" y="289.00" width="6.60" height="23.90" fill="#ce8d7f"/>
<circle cx="226.30" cy="299.80" r="1.35" fill="#22479a"/>
<circle cx="228.30" cy="298.00" r="1.35" fill="#22479a"/>
<circle cx="230.30" cy="300.80" r="1.35" fill="#22479a"/>
<circle cx="228.30" cy="302.00" r="1.35" fill="#22479a"/>
<circle cx="238.30" cy="287.40" r="1.35" fill="#ba0028"/>
<circle cx="240.30" cy="288.00" r="1.35" fill="#ba0028"/>
<circle cx="242.30" cy="289.60" r="1.35" fill="#ba0028"/>
<circle cx="240.30" cy="291.00" r="1.35" fill="#ba0028"/>
<line x1="153.60" y1="231.60" x2="153.60" y2="313.40" stroke="#000" stroke-width="1.2"/>
<line x1="153.00" y1="312.90" x2="245.80" y2="312.90" stroke="#000" stroke-width="1.2"/>
<line x1="151.20" y1="234.00" x2="153.60" y2="234.00" stroke="#000" stroke-width="1.0"/>
<line x1="151.20" y1="249.70" x2="153.60" y2="249.70" stroke="#000" stroke-width="1.0"/>
<line x1="151.20" y1="265.60" x2="153.60" y2="265.60" stroke="#000" stroke-width="1.0"/>
<line x1="151.20" y1="281.30" x2="153.60" y2="281.30" stroke="#000" stroke-width="1.0"/>
<line x1="151.20" y1="297.30" x2="153.60" y2="297.30" stroke="#000" stroke-width="1.0"/>
<line x1="151.20" y1="313.00" x2="153.60" y2="313.00" stroke="#000" stroke-width="1.0"/>
<line x1="169.20" y1="312.90" x2="169.20" y2="315.40" stroke="#000" stroke-width="1.0"/>
<line x1="201.50" y1="312.90" x2="201.50" y2="315.40" stroke="#000" stroke-width="1.0"/>
<line x1="234.00" y1="312.90" x2="234.00" y2="315.40" stroke="#000" stroke-width="1.0"/>
<text x="173.80" y="213.60" font-size="9.6" textLength="51.20" lengthAdjust="spacingAndGlyphs" fill="#231f20">A2 peptide</text>
<line x1="162.15" y1="240.55" x2="164.85" y2="243.25" stroke="#000" stroke-width="1.3"/>
<line x1="162.15" y1="243.25" x2="164.85" y2="240.55" stroke="#000" stroke-width="1.3"/>
<line x1="174.25" y1="244.95" x2="176.95" y2="247.65" stroke="#000" stroke-width="1.3"/>
<line x1="174.25" y1="247.65" x2="176.95" y2="244.95" stroke="#000" stroke-width="1.3"/>
<line x1="194.25" y1="233.65" x2="196.95" y2="236.35" stroke="#000" stroke-width="1.3"/>
<line x1="194.25" y1="236.35" x2="196.95" y2="233.65" stroke="#000" stroke-width="1.3"/>
<line x1="206.35" y1="237.05" x2="209.05" y2="239.75" stroke="#000" stroke-width="1.3"/>
<line x1="206.35" y1="239.75" x2="209.05" y2="237.05" stroke="#000" stroke-width="1.3"/>
<line x1="226.95" y1="298.95" x2="229.65" y2="301.65" stroke="#000" stroke-width="1.3"/>
<line x1="226.95" y1="301.65" x2="229.65" y2="298.95" stroke="#000" stroke-width="1.3"/>
<line x1="238.95" y1="287.85" x2="241.65" y2="290.55" stroke="#000" stroke-width="1.3"/>
<line x1="238.95" y1="290.55" x2="241.65" y2="287.85" stroke="#000" stroke-width="1.3"/>
<line x1="162.30" y1="227.90" x2="180.80" y2="227.90" stroke="#5a5a5a" stroke-width="1.5"/>
<text x="171.55" y="222.80" font-size="7.6" textLength="11.40" lengthAdjust="spacingAndGlyphs" text-anchor="middle" fill="#231f20">n.s.</text>
<line x1="192.30" y1="227.90" x2="211.20" y2="227.90" stroke="#5a5a5a" stroke-width="1.5"/>
<text x="201.75" y="222.80" font-size="7.6" textLength="11.40" lengthAdjust="spacingAndGlyphs" text-anchor="middle" fill="#231f20">n.s.</text>
<line x1="224.60" y1="281.00" x2="242.90" y2="281.00" stroke="#5a5a5a" stroke-width="1.5"/>
<circle cx="228.50" cy="277.10" r="1.1" fill="#1a1a1a"/>
<circle cx="232.00" cy="277.10" r="1.1" fill="#1a1a1a"/>
<circle cx="235.50" cy="277.10" r="1.1" fill="#1a1a1a"/>
<circle cx="239.00" cy="277.10" r="1.1" fill="#1a1a1a"/>
<text x="169.20" y="327.20" font-size="8.8" textLength="9.60" lengthAdjust="spacingAndGlyphs" text-anchor="middle" fill="#231f20">24</text>
<text x="201.50" y="327.20" font-size="8.8" textLength="9.60" lengthAdjust="spacingAndGlyphs" text-anchor="middle" fill="#231f20">48</text>
<text x="234.00" y="327.20" font-size="8.8" textLength="9.60" lengthAdjust="spacingAndGlyphs" text-anchor="middle" fill="#231f20">72</text>
<text x="121.90" y="340.00" font-size="10.0" textLength="48.70" lengthAdjust="spacingAndGlyphs" fill="#231f20">Activation (hr)</text>
<rect x="52.00" y="351.70" width="10.40" height="4.90" fill="#2d4b7f"/>
<text x="65.80" y="357.00" font-size="8.1" textLength="14.90" lengthAdjust="spacingAndGlyphs" fill="#231f20">OT1</text>
<rect x="91.20" y="351.70" width="10.40" height="4.90" fill="#a2022d"/>
<text x="105.40" y="357.00" font-size="8.1" textLength="16.70" lengthAdjust="spacingAndGlyphs" fill="#231f20">OT1;</text>
<g transform="translate(121.90 357.00) skewX(-10)"><text x="0" y="0" font-size="8.1" textLength="16.00" lengthAdjust="spacingAndGlyphs" fill="#231f20">Crbn</text></g>
<text x="138.30" y="353.10" font-size="4.86" textLength="5.15" lengthAdjust="spacingAndGlyphs" fill="#3a3a3a" style="stroke-width:0.1px">-/-</text>
<line x1="304.60" y1="212.30" x2="304.60" y2="312.80" stroke="#000" stroke-width="1.2"/>
<line x1="304.00" y1="312.30" x2="434.50" y2="312.30" stroke="#000" stroke-width="1.2"/>
<line x1="301.80" y1="312.30" x2="304.60" y2="312.30" stroke="#000" stroke-width="1.0"/>
<text x="297.80" y="315.20" font-size="8.1" textLength="4.40" lengthAdjust="spacingAndGlyphs" text-anchor="end" fill="#231f20">0</text>
<line x1="301.80" y1="298.45" x2="304.60" y2="298.45" stroke="#000" stroke-width="1.0"/>
<text x="297.80" y="301.35" font-size="8.1" textLength="4.40" lengthAdjust="spacingAndGlyphs" text-anchor="end" fill="#231f20">5</text>
<line x1="301.80" y1="284.60" x2="304.60" y2="284.60" stroke="#000" stroke-width="1.0"/>
<text x="297.80" y="287.50" font-size="8.1" textLength="8.60" lengthAdjust="spacingAndGlyphs" text-anchor="end" fill="#231f20">10</text>
<line x1="301.80" y1="270.75" x2="304.60" y2="270.75" stroke="#000" stroke-width="1.0"/>
<text x="297.80" y="273.65" font-size="8.1" textLength="8.60" lengthAdjust="spacingAndGlyphs" text-anchor="end" fill="#231f20">15</text>
<line x1="301.80" y1="256.90" x2="304.60" y2="256.90" stroke="#000" stroke-width="1.0"/>
<text x="297.80" y="259.80" font-size="8.1" textLength="8.60" lengthAdjust="spacingAndGlyphs" text-anchor="end" fill="#231f20">20</text>
<line x1="301.80" y1="243.05" x2="304.60" y2="243.05" stroke="#000" stroke-width="1.0"/>
<text x="297.80" y="245.95" font-size="8.1" textLength="8.60" lengthAdjust="spacingAndGlyphs" text-anchor="end" fill="#231f20">25</text>
<line x1="301.80" y1="229.20" x2="304.60" y2="229.20" stroke="#000" stroke-width="1.0"/>
<text x="297.80" y="232.10" font-size="8.1" textLength="8.60" lengthAdjust="spacingAndGlyphs" text-anchor="end" fill="#231f20">30</text>
<line x1="301.80" y1="215.35" x2="304.60" y2="215.35" stroke="#000" stroke-width="1.0"/>
<text x="297.80" y="218.25" font-size="8.1" textLength="8.60" lengthAdjust="spacingAndGlyphs" text-anchor="end" fill="#231f20">35</text>
<line x1="322.60" y1="312.30" x2="322.60" y2="314.80" stroke="#000" stroke-width="1.0"/>
<line x1="359.30" y1="312.30" x2="359.30" y2="314.80" stroke="#000" stroke-width="1.0"/>
<line x1="395.70" y1="312.30" x2="395.70" y2="314.80" stroke="#000" stroke-width="1.0"/>
<line x1="432.10" y1="312.30" x2="432.10" y2="314.80" stroke="#000" stroke-width="1.0"/>
<text x="322.60" y="326.30" font-size="8.3" textLength="20.40" lengthAdjust="spacingAndGlyphs" text-anchor="middle" fill="#231f20">0.001</text>
<text x="359.30" y="326.30" font-size="8.3" textLength="15.80" lengthAdjust="spacingAndGlyphs" text-anchor="middle" fill="#231f20">0.01</text>
<text x="395.70" y="326.30" font-size="8.3" textLength="11.40" lengthAdjust="spacingAndGlyphs" text-anchor="middle" fill="#231f20">0.1</text>
<text x="432.10" y="326.30" font-size="8.3" textLength="11.40" lengthAdjust="spacingAndGlyphs" text-anchor="middle" fill="#231f20">1.0</text>
<text x="347.60" y="339.80" font-size="10.2" textLength="45.60" lengthAdjust="spacingAndGlyphs" fill="#231f20">Peptide (nM)</text>
<text x="282.40" y="296.00" font-size="10.0" textLength="60.60" lengthAdjust="spacingAndGlyphs" fill="#231f20" transform="rotate(-90 282.40 296.00)">Cell number (x10</text>
<text x="278.40" y="234.90" font-size="6.4" textLength="3.60" lengthAdjust="spacingAndGlyphs" fill="#231f20" transform="rotate(-90 278.40 234.90)">3</text>
<text x="282.40" y="231.00" font-size="10.0" textLength="2.90" lengthAdjust="spacingAndGlyphs" fill="#231f20" transform="rotate(-90 282.40 231.00)">)</text>
<path d="M322.60,312.30 L432.10,312.30" stroke="#66ad3a" stroke-width="1.5" fill="none" stroke-linejoin="round"/>
<path d="M322.60,312.02 L359.30,306.90 L395.70,299.10 L432.10,282.00" stroke="#28508f" stroke-width="1.1" fill="none" stroke-linejoin="round" stroke-dasharray="3.2 2.4"/>
<path d="M322.60,312.02 L359.30,300.00 L395.70,266.60 L432.10,237.80" stroke="#b2113b" stroke-width="1.1" fill="none" stroke-linejoin="round" stroke-dasharray="3.2 2.4"/>
<path d="M322.60,303.00 L359.30,283.40 L395.70,268.30 L432.10,257.60" stroke="#28508f" stroke-width="1.1" fill="none" stroke-linejoin="round"/>
<path d="M322.60,299.90 L359.30,263.10 L395.70,248.60 L432.10,245.80" stroke="#b2113b" stroke-width="1.1" fill="none" stroke-linejoin="round"/>
<line x1="359.30" y1="279.70" x2="359.30" y2="286.60" stroke="#28508f" stroke-width="1.0"/>
<line x1="357.60" y1="279.70" x2="361.00" y2="279.70" stroke="#28508f" stroke-width="1.0"/>
<line x1="357.60" y1="286.60" x2="361.00" y2="286.60" stroke="#28508f" stroke-width="1.0"/>
<line x1="395.70" y1="264.80" x2="395.70" y2="272.00" stroke="#28508f" stroke-width="1.0"/>
<line x1="394.00" y1="264.80" x2="397.40" y2="264.80" stroke="#28508f" stroke-width="1.0"/>
<line x1="394.00" y1="272.00" x2="397.40" y2="272.00" stroke="#28508f" stroke-width="1.0"/>
<line x1="432.10" y1="252.60" x2="432.10" y2="264.00" stroke="#28508f" stroke-width="1.0"/>
<line x1="430.40" y1="252.60" x2="433.80" y2="252.60" stroke="#28508f" stroke-width="1.0"/>
<line x1="430.40" y1="264.00" x2="433.80" y2="264.00" stroke="#28508f" stroke-width="1.0"/>
<line x1="359.30" y1="257.00" x2="359.30" y2="269.40" stroke="#b2113b" stroke-width="1.0"/>
<line x1="357.60" y1="257.00" x2="361.00" y2="257.00" stroke="#b2113b" stroke-width="1.0"/>
<line x1="357.60" y1="269.40" x2="361.00" y2="269.40" stroke="#b2113b" stroke-width="1.0"/>
<line x1="395.70" y1="243.50" x2="395.70" y2="254.00" stroke="#b2113b" stroke-width="1.0"/>
<line x1="394.00" y1="243.50" x2="397.40" y2="243.50" stroke="#b2113b" stroke-width="1.0"/>
<line x1="394.00" y1="254.00" x2="397.40" y2="254.00" stroke="#b2113b" stroke-width="1.0"/>
<line x1="432.10" y1="232.00" x2="432.10" y2="251.50" stroke="#b2113b" stroke-width="1.0"/>
<line x1="430.40" y1="232.00" x2="433.80" y2="232.00" stroke="#b2113b" stroke-width="1.0"/>
<line x1="430.40" y1="251.50" x2="433.80" y2="251.50" stroke="#b2113b" stroke-width="1.0"/>
<line x1="359.30" y1="297.00" x2="359.30" y2="303.00" stroke="#b2113b" stroke-width="1.0"/>
<line x1="357.60" y1="297.00" x2="361.00" y2="297.00" stroke="#b2113b" stroke-width="1.0"/>
<line x1="357.60" y1="303.00" x2="361.00" y2="303.00" stroke="#b2113b" stroke-width="1.0"/>
<line x1="395.70" y1="263.80" x2="395.70" y2="272.40" stroke="#b2113b" stroke-width="1.0"/>
<line x1="394.00" y1="263.80" x2="397.40" y2="263.80" stroke="#b2113b" stroke-width="1.0"/>
<line x1="394.00" y1="272.40" x2="397.40" y2="272.40" stroke="#b2113b" stroke-width="1.0"/>
<line x1="432.10" y1="228.60" x2="432.10" y2="245.20" stroke="#b2113b" stroke-width="1.0"/>
<line x1="430.40" y1="228.60" x2="433.80" y2="228.60" stroke="#b2113b" stroke-width="1.0"/>
<line x1="430.40" y1="245.20" x2="433.80" y2="245.20" stroke="#b2113b" stroke-width="1.0"/>
<line x1="359.30" y1="306.00" x2="359.30" y2="307.80" stroke="#28508f" stroke-width="1.0"/>
<line x1="358.30" y1="306.00" x2="360.30" y2="306.00" stroke="#28508f" stroke-width="1.0"/>
<line x1="358.30" y1="307.80" x2="360.30" y2="307.80" stroke="#28508f" stroke-width="1.0"/>
<rect x="320.20" y="309.60" width="4.80" height="4.80" fill="#55287a"/>
<circle cx="322.60" cy="312.00" r="2.5" fill="#66ad3a"/>
<rect x="356.90" y="309.60" width="4.80" height="4.80" fill="#55287a"/>
<circle cx="359.30" cy="312.00" r="2.5" fill="#66ad3a"/>
<rect x="393.30" y="309.60" width="4.80" height="4.80" fill="#55287a"/>
<circle cx="395.70" cy="312.00" r="2.5" fill="#66ad3a"/>
<rect x="429.70" y="309.60" width="4.80" height="4.80" fill="#55287a"/>
<circle cx="432.10" cy="312.00" r="2.5" fill="#66ad3a"/>
<rect x="320.65" y="309.35" width="3.90" height="3.90" fill="none" stroke="#b2113b" stroke-width="1.1"/>
<circle cx="322.60" cy="311.50" r="1.95" fill="none" stroke="#28508f" stroke-width="1.1"/>
<circle cx="322.60" cy="311.50" r="1.3" fill="#9a8a3a"/>
<circle cx="359.30" cy="306.90" r="2.3" fill="none" stroke="#28508f" stroke-width="1.1"/>
<circle cx="395.70" cy="299.10" r="2.3" fill="none" stroke="#28508f" stroke-width="1.1"/>
<circle cx="432.10" cy="282.00" r="2.3" fill="none" stroke="#28508f" stroke-width="1.1"/>
<rect x="357.15" y="297.85" width="4.30" height="4.30" fill="none" stroke="#b2113b" stroke-width="1.1"/>
<rect x="393.55" y="264.45" width="4.30" height="4.30" fill="none" stroke="#b2113b" stroke-width="1.1"/>
<rect x="429.95" y="235.65" width="4.30" height="4.30" fill="none" stroke="#b2113b" stroke-width="1.1"/>
<circle cx="322.60" cy="303.00" r="2.5" fill="#28508f"/>
<circle cx="359.30" cy="283.40" r="2.5" fill="#28508f"/>
<circle cx="395.70" cy="268.30" r="2.5" fill="#28508f"/>
<circle cx="432.10" cy="257.60" r="2.5" fill="#28508f"/>
<rect x="320.10" y="297.40" width="5.00" height="5.00" fill="#b2113b"/>
<rect x="356.80" y="260.60" width="5.00" height="5.00" fill="#b2113b"/>
<rect x="393.20" y="246.10" width="5.00" height="5.00" fill="#b2113b"/>
<rect x="429.60" y="243.30" width="5.00" height="5.00" fill="#b2113b"/>
<text x="359.30" y="257.20" font-size="7.4" text-anchor="middle" fill="#231f20">*</text>
<text x="359.30" y="297.20" font-size="7.4" text-anchor="middle" fill="#231f20">*</text>
<text x="395.70" y="243.80" font-size="7.4" text-anchor="middle" fill="#231f20">*</text>
<text x="395.70" y="263.00" font-size="7.4" textLength="9.00" lengthAdjust="spacingAndGlyphs" text-anchor="middle" fill="#231f20">***</text>
<text x="432.10" y="229.20" font-size="7.4" textLength="6.00" lengthAdjust="spacingAndGlyphs" text-anchor="middle" fill="#231f20">**</text>
<line x1="438.60" y1="216.50" x2="450.00" y2="216.50" stroke="#28508f" stroke-width="1.1"/>
<circle cx="444.30" cy="216.50" r="2.4" fill="#28508f"/>
<text x="452.80" y="219.50" font-size="8.2" textLength="32.20" lengthAdjust="spacingAndGlyphs" fill="#231f20">OT1 (N4)</text>
<line x1="438.60" y1="228.00" x2="450.00" y2="228.00" stroke="#b2113b" stroke-width="1.1"/>
<rect x="441.90" y="225.60" width="4.80" height="4.80" fill="#b2113b"/>
<text x="452.80" y="231.00" font-size="8.2" textLength="17.60" lengthAdjust="spacingAndGlyphs" fill="#231f20">OT1;</text>
<g transform="translate(470.60 231.00) skewX(-10)"><text x="0" y="0" font-size="8.2" textLength="17.00" lengthAdjust="spacingAndGlyphs" fill="#231f20">Crbn</text></g>
<text x="488.00" y="227.10" font-size="4.86" textLength="4.97" lengthAdjust="spacingAndGlyphs" fill="#3a3a3a" style="stroke-width:0.1px">-/-</text>
<text x="495.50" y="231.00" font-size="8.2" textLength="15.20" lengthAdjust="spacingAndGlyphs" fill="#231f20">(N4)</text>
<line x1="438.60" y1="239.50" x2="450.00" y2="239.50" stroke="#28508f" stroke-width="1.1"/>
<circle cx="444.30" cy="239.50" r="2.3" fill="none" stroke="#28508f" stroke-width="1.1"/>
<text x="452.80" y="242.50" font-size="8.2" textLength="32.20" lengthAdjust="spacingAndGlyphs" fill="#231f20">OT1 (A2)</text>
<line x1="438.60" y1="251.10" x2="450.00" y2="251.10" stroke="#b2113b" stroke-width="1.1"/>
<rect x="442.15" y="248.95" width="4.30" height="4.30" fill="none" stroke="#b2113b" stroke-width="1.1"/>
<text x="452.80" y="254.10" font-size="8.2" textLength="17.60" lengthAdjust="spacingAndGlyphs" fill="#231f20">OT1;</text>
<g transform="translate(470.60 254.10) skewX(-10)"><text x="0" y="0" font-size="8.2" textLength="17.00" lengthAdjust="spacingAndGlyphs" fill="#231f20">Crbn</text></g>
<text x="488.00" y="250.20" font-size="4.86" textLength="4.97" lengthAdjust="spacingAndGlyphs" fill="#3a3a3a" style="stroke-width:0.1px">-/-</text>
<text x="495.50" y="254.10" font-size="8.2" textLength="15.20" lengthAdjust="spacingAndGlyphs" fill="#231f20">(A2)</text>
<line x1="438.60" y1="263.00" x2="450.00" y2="263.00" stroke="#66ad3a" stroke-width="1.1"/>
<circle cx="444.30" cy="263.00" r="2.4" fill="#66ad3a"/>
<text x="452.80" y="266.00" font-size="8.2" textLength="32.20" lengthAdjust="spacingAndGlyphs" fill="#231f20">OT1 (G4)</text>
<line x1="438.60" y1="274.50" x2="450.00" y2="274.50" stroke="#55287a" stroke-width="1.1"/>
<rect x="441.90" y="272.10" width="4.80" height="4.80" fill="#55287a"/>
<text x="452.80" y="277.50" font-size="8.2" textLength="17.60" lengthAdjust="spacingAndGlyphs" fill="#231f20">OT1;</text>
<g transform="translate(470.60 277.50) skewX(-10)"><text x="0" y="0" font-size="8.2" textLength="17.00" lengthAdjust="spacingAndGlyphs" fill="#231f20">Crbn</text></g>
<text x="488.00" y="273.60" font-size="4.86" textLength="4.97" lengthAdjust="spacingAndGlyphs" fill="#3a3a3a" style="stroke-width:0.1px">-/-</text>
<text x="495.50" y="277.50" font-size="8.2" textLength="15.20" lengthAdjust="spacingAndGlyphs" fill="#231f20">(G4)</text>
<line x1="46.60" y1="391.10" x2="46.60" y2="470.30" stroke="#000" stroke-width="1.2"/>
<line x1="46.00" y1="469.80" x2="179.80" y2="469.80" stroke="#000" stroke-width="1.2"/>
<line x1="44.00" y1="393.90" x2="46.60" y2="393.90" stroke="#000" stroke-width="1.0"/>
<text x="40.40" y="396.90" font-size="8.6" textLength="9.40" lengthAdjust="spacingAndGlyphs" text-anchor="end" fill="#231f20">80</text>
<line x1="44.00" y1="413.00" x2="46.60" y2="413.00" stroke="#000" stroke-width="1.0"/>
<text x="40.40" y="416.00" font-size="8.6" textLength="9.40" lengthAdjust="spacingAndGlyphs" text-anchor="end" fill="#231f20">60</text>
<line x1="44.00" y1="432.10" x2="46.60" y2="432.10" stroke="#000" stroke-width="1.0"/>
<text x="40.40" y="435.10" font-size="8.6" textLength="9.40" lengthAdjust="spacingAndGlyphs" text-anchor="end" fill="#231f20">40</text>
<line x1="44.00" y1="451.00" x2="46.60" y2="451.00" stroke="#000" stroke-width="1.0"/>
<text x="40.40" y="454.00" font-size="8.6" textLength="9.40" lengthAdjust="spacingAndGlyphs" text-anchor="end" fill="#231f20">20</text>
<line x1="44.00" y1="469.80" x2="46.60" y2="469.80" stroke="#000" stroke-width="1.0"/>
<text x="40.40" y="472.80" font-size="8.6" textLength="4.70" lengthAdjust="spacingAndGlyphs" text-anchor="end" fill="#231f20">0</text>
<line x1="69.00" y1="469.80" x2="69.00" y2="472.40" stroke="#000" stroke-width="1.0"/>
<line x1="113.30" y1="469.80" x2="113.30" y2="472.40" stroke="#000" stroke-width="1.0"/>
<line x1="157.70" y1="469.80" x2="157.70" y2="472.40" stroke="#000" stroke-width="1.0"/>
<text x="69.50" y="483.30" font-size="8.6" textLength="10.80" lengthAdjust="spacingAndGlyphs" text-anchor="middle" fill="#231f20">N4</text>
<text x="113.40" y="483.30" font-size="8.6" textLength="10.80" lengthAdjust="spacingAndGlyphs" text-anchor="middle" fill="#231f20">A2</text>
<text x="157.60" y="483.30" font-size="8.6" textLength="10.80" lengthAdjust="spacingAndGlyphs" text-anchor="middle" fill="#231f20">G4</text>
<text x="25.00" y="462.00" font-size="10.0" textLength="66.40" lengthAdjust="spacingAndGlyphs" fill="#231f20" transform="rotate(-90 25.00 462.00)">% viable CD8 T cells</text>
<rect x="55.00" y="414.80" width="11.20" height="55.00" fill="#2d4b7f"/>
<line x1="60.60" y1="412.30" x2="60.60" y2="417.30" stroke="#111" stroke-width="1.0"/>
<line x1="58.90" y1="412.30" x2="62.30" y2="412.30" stroke="#111" stroke-width="1.0"/>
<line x1="58.90" y1="417.30" x2="62.30" y2="417.30" stroke="#111" stroke-width="1.0"/>
<rect x="71.50" y="401.90" width="11.40" height="67.90" fill="#a2022d"/>
<line x1="77.20" y1="398.50" x2="77.20" y2="405.80" stroke="#111" stroke-width="1.0"/>
<line x1="75.50" y1="398.50" x2="78.90" y2="398.50" stroke="#111" stroke-width="1.0"/>
<line x1="75.50" y1="405.80" x2="78.90" y2="405.80" stroke="#111" stroke-width="1.0"/>
<rect x="99.40" y="437.90" width="11.40" height="31.90" fill="#2d4b7f"/>
<line x1="105.10" y1="434.60" x2="105.10" y2="440.80" stroke="#111" stroke-width="1.0"/>
<line x1="103.40" y1="434.60" x2="106.80" y2="434.60" stroke="#111" stroke-width="1.0"/>
<line x1="103.40" y1="440.80" x2="106.80" y2="440.80" stroke="#111" stroke-width="1.0"/>
<rect x="116.20" y="420.00" width="11.10" height="49.80" fill="#a2022d"/>
<line x1="121.80" y1="414.20" x2="121.80" y2="425.40" stroke="#111" stroke-width="1.0"/>
<line x1="120.10" y1="414.20" x2="123.50" y2="414.20" stroke="#111" stroke-width="1.0"/>
<line x1="120.10" y1="425.40" x2="123.50" y2="425.40" stroke="#111" stroke-width="1.0"/>
<rect x="144.00" y="467.40" width="10.90" height="2.40" fill="#2d4b7f"/>
<line x1="149.50" y1="465.60" x2="149.50" y2="468.60" stroke="#111" stroke-width="1.0"/>
<line x1="147.80" y1="465.60" x2="151.20" y2="465.60" stroke="#111" stroke-width="1.0"/>
<line x1="147.80" y1="468.60" x2="151.20" y2="468.60" stroke="#111" stroke-width="1.0"/>
<rect x="160.40" y="462.30" width="11.50" height="7.50" fill="#a2022d"/>
<line x1="166.20" y1="457.00" x2="166.20" y2="467.40" stroke="#111" stroke-width="1.0"/>
<line x1="164.50" y1="457.00" x2="167.90" y2="457.00" stroke="#111" stroke-width="1.0"/>
<line x1="164.50" y1="467.40" x2="167.90" y2="467.40" stroke="#111" stroke-width="1.0"/>
<line x1="60.80" y1="393.70" x2="76.70" y2="393.70" stroke="#3a3a3a" stroke-width="1.35"/>
<circle cx="63.50" cy="389.80" r="1.1" fill="#1a1a1a"/>
<circle cx="67.00" cy="389.80" r="1.1" fill="#1a1a1a"/>
<circle cx="70.50" cy="389.80" r="1.1" fill="#1a1a1a"/>
<circle cx="74.00" cy="389.80" r="1.1" fill="#1a1a1a"/>
<line x1="105.20" y1="408.50" x2="121.50" y2="408.50" stroke="#3a3a3a" stroke-width="1.35"/>
<circle cx="109.85" cy="404.60" r="1.1" fill="#1a1a1a"/>
<circle cx="113.35" cy="404.60" r="1.1" fill="#1a1a1a"/>
<circle cx="116.85" cy="404.60" r="1.1" fill="#1a1a1a"/>
<line x1="148.00" y1="448.80" x2="166.20" y2="448.80" stroke="#3a3a3a" stroke-width="1.35"/>
<text x="157.10" y="443.80" font-size="7.6" textLength="11.60" lengthAdjust="spacingAndGlyphs" text-anchor="middle" fill="#231f20">n.s.</text>
<rect x="66.10" y="493.80" width="10.80" height="5.40" fill="#2d4b7f"/>
<text x="80.00" y="499.40" font-size="8.1" textLength="15.10" lengthAdjust="spacingAndGlyphs" fill="#231f20">OT1</text>
<rect x="105.30" y="493.80" width="10.90" height="5.40" fill="#a2022d"/>
<text x="119.70" y="499.40" font-size="8.1" textLength="17.30" lengthAdjust="spacingAndGlyphs" fill="#231f20">OT1;</text>
<g transform="translate(136.80 499.40) skewX(-10)"><text x="0" y="0" font-size="8.1" textLength="16.60" lengthAdjust="spacingAndGlyphs" fill="#231f20">Crbn</text></g>
<text x="153.80" y="495.50" font-size="4.86" textLength="5.15" lengthAdjust="spacingAndGlyphs" fill="#3a3a3a" style="stroke-width:0.1px">-/-</text>
<line x1="240.70" y1="399.20" x2="240.70" y2="470.30" stroke="#000" stroke-width="1.2"/>
<line x1="240.10" y1="469.80" x2="291.70" y2="469.80" stroke="#000" stroke-width="1.2"/>
<line x1="238.10" y1="401.50" x2="240.70" y2="401.50" stroke="#000" stroke-width="1.0"/>
<text x="234.30" y="404.50" font-size="8.6" textLength="14.25" lengthAdjust="spacingAndGlyphs" text-anchor="end" fill="#231f20">400</text>
<line x1="238.10" y1="418.80" x2="240.70" y2="418.80" stroke="#000" stroke-width="1.0"/>
<text x="234.30" y="421.80" font-size="8.6" textLength="14.25" lengthAdjust="spacingAndGlyphs" text-anchor="end" fill="#231f20">300</text>
<line x1="238.10" y1="436.10" x2="240.70" y2="436.10" stroke="#000" stroke-width="1.0"/>
<text x="234.30" y="439.10" font-size="8.6" textLength="14.25" lengthAdjust="spacingAndGlyphs" text-anchor="end" fill="#231f20">200</text>
<line x1="238.10" y1="453.00" x2="240.70" y2="453.00" stroke="#000" stroke-width="1.0"/>
<text x="234.30" y="456.00" font-size="8.6" textLength="14.25" lengthAdjust="spacingAndGlyphs" text-anchor="end" fill="#231f20">100</text>
<line x1="238.10" y1="470.00" x2="240.70" y2="470.00" stroke="#000" stroke-width="1.0"/>
<text x="234.30" y="473.00" font-size="8.6" textLength="4.75" lengthAdjust="spacingAndGlyphs" text-anchor="end" fill="#231f20">0</text>
<text x="214.30" y="464.20" font-size="10.0" textLength="60.00" lengthAdjust="spacingAndGlyphs" fill="#231f20" transform="rotate(-90 214.30 464.20)">ECAR (mpH/min)</text>
<rect x="251.00" y="418.80" width="11.10" height="51.00" fill="#2d4b7f"/>
<line x1="256.55" y1="415.50" x2="256.55" y2="422.20" stroke="#111" stroke-width="1.0"/>
<line x1="254.85" y1="415.50" x2="258.25" y2="415.50" stroke="#111" stroke-width="1.0"/>
<line x1="254.85" y1="422.20" x2="258.25" y2="422.20" stroke="#111" stroke-width="1.0"/>
<rect x="272.60" y="410.70" width="11.10" height="59.10" fill="#a2022d"/>
<line x1="278.15" y1="407.30" x2="278.15" y2="413.90" stroke="#111" stroke-width="1.0"/>
<line x1="276.45" y1="407.30" x2="279.85" y2="407.30" stroke="#111" stroke-width="1.0"/>
<line x1="276.45" y1="413.90" x2="279.85" y2="413.90" stroke="#111" stroke-width="1.0"/>
<line x1="256.20" y1="401.60" x2="278.50" y2="401.60" stroke="#3a3a3a" stroke-width="1.35"/>
<circle cx="262.10" cy="397.70" r="1.1" fill="#1a1a1a"/>
<circle cx="265.60" cy="397.70" r="1.1" fill="#1a1a1a"/>
<circle cx="269.10" cy="397.70" r="1.1" fill="#1a1a1a"/>
<circle cx="272.60" cy="397.70" r="1.1" fill="#1a1a1a"/>
<line x1="256.40" y1="469.80" x2="256.40" y2="472.60" stroke="#000" stroke-width="1.0"/>
<line x1="278.10" y1="469.80" x2="278.10" y2="472.60" stroke="#000" stroke-width="1.0"/>
<text x="256.40" y="483.70" font-size="8.6" textLength="15.40" lengthAdjust="spacingAndGlyphs" text-anchor="middle" fill="#231f20">OT1</text>
<text x="268.80" y="483.70" font-size="8.6" textLength="18.40" lengthAdjust="spacingAndGlyphs" fill="#231f20">OT1;</text>
<text x="266.10" y="493.60" font-size="8.6" textLength="18.60" lengthAdjust="spacingAndGlyphs" font-style="italic" fill="#231f20">Crbn</text>
<text x="285.10" y="489.80" font-size="5.4" textLength="6.20" lengthAdjust="spacingAndGlyphs" fill="#231f20">-/-</text>
<line x1="347.40" y1="399.90" x2="347.40" y2="470.30" stroke="#000" stroke-width="1.2"/>
<line x1="346.80" y1="469.80" x2="397.80" y2="469.80" stroke="#000" stroke-width="1.2"/>
<line x1="344.80" y1="402.40" x2="347.40" y2="402.40" stroke="#000" stroke-width="1.0"/>
<text x="340.60" y="405.40" font-size="8.6" textLength="9.50" lengthAdjust="spacingAndGlyphs" text-anchor="end" fill="#231f20">60</text>
<line x1="344.80" y1="424.70" x2="347.40" y2="424.70" stroke="#000" stroke-width="1.0"/>
<text x="340.60" y="427.70" font-size="8.6" textLength="9.50" lengthAdjust="spacingAndGlyphs" text-anchor="end" fill="#231f20">40</text>
<line x1="344.80" y1="447.30" x2="347.40" y2="447.30" stroke="#000" stroke-width="1.0"/>
<text x="340.60" y="450.30" font-size="8.6" textLength="9.50" lengthAdjust="spacingAndGlyphs" text-anchor="end" fill="#231f20">20</text>
<line x1="344.80" y1="469.60" x2="347.40" y2="469.60" stroke="#000" stroke-width="1.0"/>
<text x="340.60" y="472.60" font-size="8.6" textLength="4.75" lengthAdjust="spacingAndGlyphs" text-anchor="end" fill="#231f20">0</text>
<text x="326.30" y="462.90" font-size="10.0" textLength="57.60" lengthAdjust="spacingAndGlyphs" fill="#231f20" transform="rotate(-90 326.30 462.90)">OCR (pMol/min)</text>
<rect x="358.00" y="431.20" width="11.00" height="38.60" fill="#2d4b7f"/>
<line x1="363.50" y1="425.80" x2="363.50" y2="435.50" stroke="#111" stroke-width="1.0"/>
<line x1="361.80" y1="425.80" x2="365.20" y2="425.80" stroke="#111" stroke-width="1.0"/>
<line x1="361.80" y1="435.50" x2="365.20" y2="435.50" stroke="#111" stroke-width="1.0"/>
<rect x="379.60" y="413.20" width="11.00" height="56.60" fill="#a2022d"/>
<line x1="385.10" y1="408.80" x2="385.10" y2="416.50" stroke="#111" stroke-width="1.0"/>
<line x1="383.40" y1="408.80" x2="386.80" y2="408.80" stroke="#111" stroke-width="1.0"/>
<line x1="383.40" y1="416.50" x2="386.80" y2="416.50" stroke="#111" stroke-width="1.0"/>
<line x1="363.90" y1="401.90" x2="385.50" y2="401.90" stroke="#3a3a3a" stroke-width="1.35"/>
<circle cx="369.45" cy="398.00" r="1.1" fill="#1a1a1a"/>
<circle cx="372.95" cy="398.00" r="1.1" fill="#1a1a1a"/>
<circle cx="376.45" cy="398.00" r="1.1" fill="#1a1a1a"/>
<circle cx="379.95" cy="398.00" r="1.1" fill="#1a1a1a"/>
<line x1="363.50" y1="469.80" x2="363.50" y2="472.60" stroke="#000" stroke-width="1.0"/>
<line x1="385.50" y1="469.80" x2="385.50" y2="472.60" stroke="#000" stroke-width="1.0"/>
<text x="363.50" y="483.70" font-size="8.6" textLength="15.40" lengthAdjust="spacingAndGlyphs" text-anchor="middle" fill="#231f20">OT1</text>
<text x="376.20" y="483.70" font-size="8.6" textLength="18.40" lengthAdjust="spacingAndGlyphs" fill="#231f20">OT1;</text>
<text x="373.50" y="493.60" font-size="8.6" textLength="18.60" lengthAdjust="spacingAndGlyphs" font-style="italic" fill="#231f20">Crbn</text>
<text x="392.50" y="489.80" font-size="5.4" textLength="6.20" lengthAdjust="spacingAndGlyphs" fill="#231f20">-/-</text>
<line x1="454.40" y1="400.20" x2="454.40" y2="470.30" stroke="#000" stroke-width="1.2"/>
<line x1="453.80" y1="469.80" x2="505.60" y2="469.80" stroke="#000" stroke-width="1.2"/>
<line x1="451.80" y1="402.80" x2="454.40" y2="402.80" stroke="#000" stroke-width="1.0"/>
<text x="447.80" y="405.80" font-size="8.6" textLength="9.50" lengthAdjust="spacingAndGlyphs" text-anchor="end" fill="#231f20">30</text>
<line x1="451.80" y1="425.10" x2="454.40" y2="425.10" stroke="#000" stroke-width="1.0"/>
<text x="447.80" y="428.10" font-size="8.6" textLength="9.50" lengthAdjust="spacingAndGlyphs" text-anchor="end" fill="#231f20">20</text>
<line x1="451.80" y1="447.30" x2="454.40" y2="447.30" stroke="#000" stroke-width="1.0"/>
<text x="447.80" y="450.30" font-size="8.6" textLength="9.50" lengthAdjust="spacingAndGlyphs" text-anchor="end" fill="#231f20">10</text>
<line x1="451.80" y1="469.80" x2="454.40" y2="469.80" stroke="#000" stroke-width="1.0"/>
<text x="447.80" y="472.80" font-size="8.6" textLength="4.75" lengthAdjust="spacingAndGlyphs" text-anchor="end" fill="#231f20">0</text>
<text x="432.60" y="457.20" font-size="10.0" textLength="46.40" lengthAdjust="spacingAndGlyphs" fill="#231f20" transform="rotate(-90 432.60 457.20)">% cytotoxicity</text>
<rect x="464.60" y="432.60" width="11.40" height="37.20" fill="#2d4b7f"/>
<line x1="470.30" y1="431.60" x2="470.30" y2="433.80" stroke="#111" stroke-width="1.0"/>
<line x1="468.60" y1="431.60" x2="472.00" y2="431.60" stroke="#111" stroke-width="1.0"/>
<line x1="468.60" y1="433.80" x2="472.00" y2="433.80" stroke="#111" stroke-width="1.0"/>
<rect x="486.60" y="420.10" width="11.40" height="49.70" fill="#a2022d"/>
<line x1="492.30" y1="415.80" x2="492.30" y2="423.40" stroke="#111" stroke-width="1.0"/>
<line x1="490.60" y1="415.80" x2="494.00" y2="415.80" stroke="#111" stroke-width="1.0"/>
<line x1="490.60" y1="423.40" x2="494.00" y2="423.40" stroke="#111" stroke-width="1.0"/>
<line x1="470.20" y1="410.60" x2="492.30" y2="410.60" stroke="#3a3a3a" stroke-width="1.35"/>
<circle cx="481.25" cy="406.70" r="1.1" fill="#1a1a1a"/>
<line x1="470.50" y1="469.80" x2="470.50" y2="472.60" stroke="#000" stroke-width="1.0"/>
<line x1="492.30" y1="469.80" x2="492.30" y2="472.60" stroke="#000" stroke-width="1.0"/>
<text x="470.50" y="483.70" font-size="8.6" textLength="15.40" lengthAdjust="spacingAndGlyphs" text-anchor="middle" fill="#231f20">OT1</text>
<text x="483.00" y="483.70" font-size="8.6" textLength="18.40" lengthAdjust="spacingAndGlyphs" fill="#231f20">OT1;</text>
<text x="480.30" y="493.60" font-size="8.6" textLength="18.60" lengthAdjust="spacingAndGlyphs" font-style="italic" fill="#231f20">Crbn</text>
<text x="499.30" y="489.80" font-size="5.4" textLength="6.20" lengthAdjust="spacingAndGlyphs" fill="#231f20">-/-</text>
<path d="M20.56,615.36 L25.62,615.25 L28.99,614.91 L32.36,612.66 L35.73,605.92 L37.98,595.81 L39.66,587.94 L41.35,574.46 L43.03,559.85 L44.16,552.55 L44.72,549.74 L45.62,548.39 L46.40,548.06 L47.19,548.62 L48.09,554.24 L49.44,565.47 L50.34,572.21 L51.46,585.70 L52.81,596.93 L54.27,608.17 L55.39,612.10 L56.52,613.79 L58.20,614.91 L60.45,615.36 L60.45,615.40 L20.56,615.40" stroke="#5aa840" stroke-width="1.0" fill="#bcdb9f" stroke-linejoin="round"/>
<path d="M60.45,615.30 L95.10,615.30" stroke="#5aa840" stroke-width="0.8" fill="none" stroke-linejoin="round"/>
<path d="M20.00,615.36 L26.74,615.36 L31.24,614.91 L36.85,608.17 L41.35,600.30 L44.72,595.81 L46.97,592.44 L48.09,589.63 L49.44,589.07 L50.34,591.31 L51.24,594.12 L52.02,590.19 L52.92,585.70 L53.71,586.82 L54.27,584.57 L55.73,581.76 L57.08,572.21 L58.76,566.60 L59.89,565.47 L61.01,557.61 L61.80,554.24 L62.70,558.73 L64.38,571.09 L66.07,587.94 L67.75,602.55 L69.44,610.42 L71.69,613.79 L75.06,615.47 L95.10,615.40" stroke="#33568f" stroke-width="1.15" fill="none" stroke-linejoin="round"/>
<path d="M20.00,615.36 L34.61,614.91 L42.47,613.79 L48.09,611.54 L51.46,609.29 L53.71,605.36 L54.83,595.81 L56.52,580.08 L58.20,565.47 L59.89,554.24 L60.67,550.87 L61.35,550.30 L62.02,551.09 L62.70,555.36 L64.38,571.09 L66.07,587.94 L67.75,602.55 L69.44,610.42 L71.69,613.79 L75.06,615.47 L95.10,615.40" stroke="#c0143a" stroke-width="1.15" fill="none" stroke-linejoin="round"/>
<rect x="19.10" y="542.50" width="76.00" height="72.90" fill="none" stroke="#000" stroke-width="1.0"/>
<line x1="16.50" y1="615.40" x2="19.10" y2="615.40" stroke="#000" stroke-width="0.8"/>
<line x1="17.50" y1="612.71" x2="19.10" y2="612.71" stroke="#000" stroke-width="0.6"/>
<line x1="17.50" y1="610.02" x2="19.10" y2="610.02" stroke="#000" stroke-width="0.6"/>
<line x1="17.50" y1="607.33" x2="19.10" y2="607.33" stroke="#000" stroke-width="0.6"/>
<line x1="17.50" y1="604.64" x2="19.10" y2="604.64" stroke="#000" stroke-width="0.6"/>
<line x1="16.50" y1="601.95" x2="19.10" y2="601.95" stroke="#000" stroke-width="0.8"/>
<line x1="17.50" y1="599.26" x2="19.10" y2="599.26" stroke="#000" stroke-width="0.6"/>
<line x1="17.50" y1="596.57" x2="19.10" y2="596.57" stroke="#000" stroke-width="0.6"/>
<line x1="17.50" y1="593.88" x2="19.10" y2="593.88" stroke="#000" stroke-width="0.6"/>
<line x1="17.50" y1="591.19" x2="19.10" y2="591.19" stroke="#000" stroke-width="0.6"/>
<line x1="16.50" y1="588.50" x2="19.10" y2="588.50" stroke="#000" stroke-width="0.8"/>
<line x1="17.50" y1="585.81" x2="19.10" y2="585.81" stroke="#000" stroke-width="0.6"/>
<line x1="17.50" y1="583.12" x2="19.10" y2="583.12" stroke="#000" stroke-width="0.6"/>
<line x1="17.50" y1="580.43" x2="19.10" y2="580.43" stroke="#000" stroke-width="0.6"/>
<line x1="17.50" y1="577.74" x2="19.10" y2="577.74" stroke="#000" stroke-width="0.6"/>
<line x1="16.50" y1="575.05" x2="19.10" y2="575.05" stroke="#000" stroke-width="0.8"/>
<line x1="17.50" y1="572.36" x2="19.10" y2="572.36" stroke="#000" stroke-width="0.6"/>
<line x1="17.50" y1="569.67" x2="19.10" y2="569.67" stroke="#000" stroke-width="0.6"/>
<line x1="17.50" y1="566.98" x2="19.10" y2="566.98" stroke="#000" stroke-width="0.6"/>
<line x1="17.50" y1="564.29" x2="19.10" y2="564.29" stroke="#000" stroke-width="0.6"/>
<line x1="16.50" y1="561.60" x2="19.10" y2="561.60" stroke="#000" stroke-width="0.8"/>
<line x1="17.50" y1="558.91" x2="19.10" y2="558.91" stroke="#000" stroke-width="0.6"/>
<line x1="17.50" y1="556.22" x2="19.10" y2="556.22" stroke="#000" stroke-width="0.6"/>
<line x1="17.50" y1="553.53" x2="19.10" y2="553.53" stroke="#000" stroke-width="0.6"/>
<line x1="17.50" y1="550.84" x2="19.10" y2="550.84" stroke="#000" stroke-width="0.6"/>
<line x1="16.50" y1="548.15" x2="19.10" y2="548.15" stroke="#000" stroke-width="0.8"/>
<line x1="17.50" y1="545.46" x2="19.10" y2="545.46" stroke="#000" stroke-width="0.6"/>
<line x1="35.60" y1="615.40" x2="35.60" y2="617.80" stroke="#000" stroke-width="0.8"/>
<line x1="25.46" y1="615.40" x2="25.46" y2="616.90" stroke="#000" stroke-width="0.55"/>
<line x1="28.02" y1="615.40" x2="28.02" y2="616.90" stroke="#000" stroke-width="0.55"/>
<line x1="29.83" y1="615.40" x2="29.83" y2="616.90" stroke="#000" stroke-width="0.55"/>
<line x1="31.24" y1="615.40" x2="31.24" y2="616.90" stroke="#000" stroke-width="0.55"/>
<line x1="32.38" y1="615.40" x2="32.38" y2="616.90" stroke="#000" stroke-width="0.55"/>
<line x1="33.35" y1="615.40" x2="33.35" y2="616.90" stroke="#000" stroke-width="0.55"/>
<line x1="34.19" y1="615.40" x2="34.19" y2="616.90" stroke="#000" stroke-width="0.55"/>
<line x1="34.94" y1="615.40" x2="34.94" y2="616.90" stroke="#000" stroke-width="0.55"/>
<line x1="50.10" y1="615.40" x2="50.10" y2="617.80" stroke="#000" stroke-width="0.8"/>
<line x1="39.96" y1="615.40" x2="39.96" y2="616.90" stroke="#000" stroke-width="0.55"/>
<line x1="42.52" y1="615.40" x2="42.52" y2="616.90" stroke="#000" stroke-width="0.55"/>
<line x1="44.33" y1="615.40" x2="44.33" y2="616.90" stroke="#000" stroke-width="0.55"/>
<line x1="45.74" y1="615.40" x2="45.74" y2="616.90" stroke="#000" stroke-width="0.55"/>
<line x1="46.88" y1="615.40" x2="46.88" y2="616.90" stroke="#000" stroke-width="0.55"/>
<line x1="47.85" y1="615.40" x2="47.85" y2="616.90" stroke="#000" stroke-width="0.55"/>
<line x1="48.69" y1="615.40" x2="48.69" y2="616.90" stroke="#000" stroke-width="0.55"/>
<line x1="49.44" y1="615.40" x2="49.44" y2="616.90" stroke="#000" stroke-width="0.55"/>
<line x1="64.60" y1="615.40" x2="64.60" y2="617.80" stroke="#000" stroke-width="0.8"/>
<line x1="54.46" y1="615.40" x2="54.46" y2="616.90" stroke="#000" stroke-width="0.55"/>
<line x1="57.02" y1="615.40" x2="57.02" y2="616.90" stroke="#000" stroke-width="0.55"/>
<line x1="58.83" y1="615.40" x2="58.83" y2="616.90" stroke="#000" stroke-width="0.55"/>
<line x1="60.24" y1="615.40" x2="60.24" y2="616.90" stroke="#000" stroke-width="0.55"/>
<line x1="61.38" y1="615.40" x2="61.38" y2="616.90" stroke="#000" stroke-width="0.55"/>
<line x1="62.35" y1="615.40" x2="62.35" y2="616.90" stroke="#000" stroke-width="0.55"/>
<line x1="63.19" y1="615.40" x2="63.19" y2="616.90" stroke="#000" stroke-width="0.55"/>
<line x1="63.94" y1="615.40" x2="63.94" y2="616.90" stroke="#000" stroke-width="0.55"/>
<line x1="79.10" y1="615.40" x2="79.10" y2="617.80" stroke="#000" stroke-width="0.8"/>
<line x1="68.96" y1="615.40" x2="68.96" y2="616.90" stroke="#000" stroke-width="0.55"/>
<line x1="71.52" y1="615.40" x2="71.52" y2="616.90" stroke="#000" stroke-width="0.55"/>
<line x1="73.33" y1="615.40" x2="73.33" y2="616.90" stroke="#000" stroke-width="0.55"/>
<line x1="74.74" y1="615.40" x2="74.74" y2="616.90" stroke="#000" stroke-width="0.55"/>
<line x1="75.88" y1="615.40" x2="75.88" y2="616.90" stroke="#000" stroke-width="0.55"/>
<line x1="76.85" y1="615.40" x2="76.85" y2="616.90" stroke="#000" stroke-width="0.55"/>
<line x1="77.69" y1="615.40" x2="77.69" y2="616.90" stroke="#000" stroke-width="0.55"/>
<line x1="78.44" y1="615.40" x2="78.44" y2="616.90" stroke="#000" stroke-width="0.55"/>
<line x1="93.60" y1="615.40" x2="93.60" y2="617.80" stroke="#000" stroke-width="0.8"/>
<line x1="83.46" y1="615.40" x2="83.46" y2="616.90" stroke="#000" stroke-width="0.55"/>
<line x1="86.02" y1="615.40" x2="86.02" y2="616.90" stroke="#000" stroke-width="0.55"/>
<line x1="87.83" y1="615.40" x2="87.83" y2="616.90" stroke="#000" stroke-width="0.55"/>
<line x1="89.24" y1="615.40" x2="89.24" y2="616.90" stroke="#000" stroke-width="0.55"/>
<line x1="90.38" y1="615.40" x2="90.38" y2="616.90" stroke="#000" stroke-width="0.55"/>
<line x1="91.35" y1="615.40" x2="91.35" y2="616.90" stroke="#000" stroke-width="0.55"/>
<line x1="92.19" y1="615.40" x2="92.19" y2="616.90" stroke="#000" stroke-width="0.55"/>
<line x1="92.94" y1="615.40" x2="92.94" y2="616.90" stroke="#000" stroke-width="0.55"/>
<line x1="23.10" y1="615.40" x2="23.10" y2="617.20" stroke="#000" stroke-width="0.6"/>
<line x1="28.60" y1="615.40" x2="28.60" y2="617.20" stroke="#000" stroke-width="0.6"/>
<circle cx="36.30" cy="616.70" r="1.35" fill="#000"/>
<text x="21.70" y="551.60" font-size="8.6" textLength="10.60" lengthAdjust="spacingAndGlyphs" fill="#231f20">N4</text>
<path d="M106.40,615.40 L110.00,614.80 L113.00,613.60 L116.20,611.80 L118.80,608.50 L121.10,603.60 L123.00,596.00 L124.40,587.30 L125.70,579.00 L126.90,571.00 L128.10,562.00 L129.30,554.60 L130.40,550.20 L131.30,548.60 L132.10,549.40 L132.90,551.30 L133.60,558.00 L134.20,567.70 L135.00,576.00 L135.80,584.00 L136.80,592.50 L137.80,600.40 L138.80,606.80 L139.90,611.80 L141.50,614.00 L144.00,615.20 L144.00,615.40 L106.40,615.40" stroke="#5aa840" stroke-width="1.0" fill="#bcdb9f" stroke-linejoin="round"/>
<path d="M144.00,615.30 L180.60,615.30" stroke="#5aa840" stroke-width="0.8" fill="none" stroke-linejoin="round"/>
<path d="M104.50,615.40 L114.60,615.30 L118.00,614.20 L121.00,612.20 L124.40,608.50 L126.80,601.00 L129.30,592.20 L131.00,584.00 L132.60,575.80 L133.40,569.00 L134.20,562.80 L135.00,557.00 L135.80,553.00 L136.70,551.30 L137.30,552.50 L137.80,554.60 L138.50,561.00 L139.10,567.70 L140.00,574.50 L140.80,580.80 L142.00,589.50 L143.20,597.10 L144.40,602.50 L145.70,606.90 L147.20,610.20 L148.90,612.60 L151.00,614.20 L153.80,615.00 L160.00,615.30 L180.60,615.40" stroke="#33568f" stroke-width="1.15" fill="none" stroke-linejoin="round"/>
<path d="M104.50,615.40 L111.30,615.30 L116.00,614.60 L120.00,613.00 L123.50,610.50 L126.50,605.50 L128.50,599.00 L130.10,592.20 L131.80,580.00 L133.40,567.70 L134.20,564.50 L135.00,562.80 L135.40,559.00 L135.80,556.20 L136.50,554.80 L137.20,554.60 L137.80,556.80 L138.30,559.50 L138.90,562.50 L139.40,564.40 L140.50,563.80 L141.60,563.60 L142.20,561.50 L142.70,559.50 L143.20,555.00 L143.70,551.30 L144.10,550.40 L144.50,550.50 L145.20,552.00 L146.00,553.80 L146.80,555.20 L147.60,557.90 L148.20,565.00 L148.90,575.80 L149.80,586.00 L150.60,595.50 L151.50,603.50 L152.50,610.20 L154.00,613.60 L155.50,615.00 L160.00,615.30 L180.60,615.40" stroke="#c0143a" stroke-width="1.15" fill="none" stroke-linejoin="round"/>
<rect x="104.50" y="542.50" width="76.10" height="72.90" fill="none" stroke="#000" stroke-width="1.0"/>
<line x1="101.90" y1="615.40" x2="104.50" y2="615.40" stroke="#000" stroke-width="0.8"/>
<line x1="102.90" y1="612.71" x2="104.50" y2="612.71" stroke="#000" stroke-width="0.6"/>
<line x1="102.90" y1="610.02" x2="104.50" y2="610.02" stroke="#000" stroke-width="0.6"/>
<line x1="102.90" y1="607.33" x2="104.50" y2="607.33" stroke="#000" stroke-width="0.6"/>
<line x1="102.90" y1="604.64" x2="104.50" y2="604.64" stroke="#000" stroke-width="0.6"/>
<line x1="101.90" y1="601.95" x2="104.50" y2="601.95" stroke="#000" stroke-width="0.8"/>
<line x1="102.90" y1="599.26" x2="104.50" y2="599.26" stroke="#000" stroke-width="0.6"/>
<line x1="102.90" y1="596.57" x2="104.50" y2="596.57" stroke="#000" stroke-width="0.6"/>
<line x1="102.90" y1="593.88" x2="104.50" y2="593.88" stroke="#000" stroke-width="0.6"/>
<line x1="102.90" y1="591.19" x2="104.50" y2="591.19" stroke="#000" stroke-width="0.6"/>
<line x1="101.90" y1="588.50" x2="104.50" y2="588.50" stroke="#000" stroke-width="0.8"/>
<line x1="102.90" y1="585.81" x2="104.50" y2="585.81" stroke="#000" stroke-width="0.6"/>
<line x1="102.90" y1="583.12" x2="104.50" y2="583.12" stroke="#000" stroke-width="0.6"/>
<line x1="102.90" y1="580.43" x2="104.50" y2="580.43" stroke="#000" stroke-width="0.6"/>
<line x1="102.90" y1="577.74" x2="104.50" y2="577.74" stroke="#000" stroke-width="0.6"/>
<line x1="101.90" y1="575.05" x2="104.50" y2="575.05" stroke="#000" stroke-width="0.8"/>
<line x1="102.90" y1="572.36" x2="104.50" y2="572.36" stroke="#000" stroke-width="0.6"/>
<line x1="102.90" y1="569.67" x2="104.50" y2="569.67" stroke="#000" stroke-width="0.6"/>
<line x1="102.90" y1="566.98" x2="104.50" y2="566.98" stroke="#000" stroke-width="0.6"/>
<line x1="102.90" y1="564.29" x2="104.50" y2="564.29" stroke="#000" stroke-width="0.6"/>
<line x1="101.90" y1="561.60" x2="104.50" y2="561.60" stroke="#000" stroke-width="0.8"/>
<line x1="102.90" y1="558.91" x2="104.50" y2="558.91" stroke="#000" stroke-width="0.6"/>
<line x1="102.90" y1="556.22" x2="104.50" y2="556.22" stroke="#000" stroke-width="0.6"/>
<line x1="102.90" y1="553.53" x2="104.50" y2="553.53" stroke="#000" stroke-width="0.6"/>
<line x1="102.90" y1="550.84" x2="104.50" y2="550.84" stroke="#000" stroke-width="0.6"/>
<line x1="101.90" y1="548.15" x2="104.50" y2="548.15" stroke="#000" stroke-width="0.8"/>
<line x1="102.90" y1="545.46" x2="104.50" y2="545.46" stroke="#000" stroke-width="0.6"/>
<line x1="121.00" y1="615.40" x2="121.00" y2="617.80" stroke="#000" stroke-width="0.8"/>
<line x1="110.86" y1="615.40" x2="110.86" y2="616.90" stroke="#000" stroke-width="0.55"/>
<line x1="113.42" y1="615.40" x2="113.42" y2="616.90" stroke="#000" stroke-width="0.55"/>
<line x1="115.23" y1="615.40" x2="115.23" y2="616.90" stroke="#000" stroke-width="0.55"/>
<line x1="116.64" y1="615.40" x2="116.64" y2="616.90" stroke="#000" stroke-width="0.55"/>
<line x1="117.78" y1="615.40" x2="117.78" y2="616.90" stroke="#000" stroke-width="0.55"/>
<line x1="118.75" y1="615.40" x2="118.75" y2="616.90" stroke="#000" stroke-width="0.55"/>
<line x1="119.59" y1="615.40" x2="119.59" y2="616.90" stroke="#000" stroke-width="0.55"/>
<line x1="120.34" y1="615.40" x2="120.34" y2="616.90" stroke="#000" stroke-width="0.55"/>
<line x1="135.50" y1="615.40" x2="135.50" y2="617.80" stroke="#000" stroke-width="0.8"/>
<line x1="125.36" y1="615.40" x2="125.36" y2="616.90" stroke="#000" stroke-width="0.55"/>
<line x1="127.92" y1="615.40" x2="127.92" y2="616.90" stroke="#000" stroke-width="0.55"/>
<line x1="129.73" y1="615.40" x2="129.73" y2="616.90" stroke="#000" stroke-width="0.55"/>
<line x1="131.14" y1="615.40" x2="131.14" y2="616.90" stroke="#000" stroke-width="0.55"/>
<line x1="132.28" y1="615.40" x2="132.28" y2="616.90" stroke="#000" stroke-width="0.55"/>
<line x1="133.25" y1="615.40" x2="133.25" y2="616.90" stroke="#000" stroke-width="0.55"/>
<line x1="134.09" y1="615.40" x2="134.09" y2="616.90" stroke="#000" stroke-width="0.55"/>
<line x1="134.84" y1="615.40" x2="134.84" y2="616.90" stroke="#000" stroke-width="0.55"/>
<line x1="150.00" y1="615.40" x2="150.00" y2="617.80" stroke="#000" stroke-width="0.8"/>
<line x1="139.86" y1="615.40" x2="139.86" y2="616.90" stroke="#000" stroke-width="0.55"/>
<line x1="142.42" y1="615.40" x2="142.42" y2="616.90" stroke="#000" stroke-width="0.55"/>
<line x1="144.23" y1="615.40" x2="144.23" y2="616.90" stroke="#000" stroke-width="0.55"/>
<line x1="145.64" y1="615.40" x2="145.64" y2="616.90" stroke="#000" stroke-width="0.55"/>
<line x1="146.78" y1="615.40" x2="146.78" y2="616.90" stroke="#000" stroke-width="0.55"/>
<line x1="147.75" y1="615.40" x2="147.75" y2="616.90" stroke="#000" stroke-width="0.55"/>
<line x1="148.59" y1="615.40" x2="148.59" y2="616.90" stroke="#000" stroke-width="0.55"/>
<line x1="149.34" y1="615.40" x2="149.34" y2="616.90" stroke="#000" stroke-width="0.55"/>
<line x1="164.50" y1="615.40" x2="164.50" y2="617.80" stroke="#000" stroke-width="0.8"/>
<line x1="154.36" y1="615.40" x2="154.36" y2="616.90" stroke="#000" stroke-width="0.55"/>
<line x1="156.92" y1="615.40" x2="156.92" y2="616.90" stroke="#000" stroke-width="0.55"/>
<line x1="158.73" y1="615.40" x2="158.73" y2="616.90" stroke="#000" stroke-width="0.55"/>
<line x1="160.14" y1="615.40" x2="160.14" y2="616.90" stroke="#000" stroke-width="0.55"/>
<line x1="161.28" y1="615.40" x2="161.28" y2="616.90" stroke="#000" stroke-width="0.55"/>
<line x1="162.25" y1="615.40" x2="162.25" y2="616.90" stroke="#000" stroke-width="0.55"/>
<line x1="163.09" y1="615.40" x2="163.09" y2="616.90" stroke="#000" stroke-width="0.55"/>
<line x1="163.84" y1="615.40" x2="163.84" y2="616.90" stroke="#000" stroke-width="0.55"/>
<line x1="179.00" y1="615.40" x2="179.00" y2="617.80" stroke="#000" stroke-width="0.8"/>
<line x1="168.86" y1="615.40" x2="168.86" y2="616.90" stroke="#000" stroke-width="0.55"/>
<line x1="171.42" y1="615.40" x2="171.42" y2="616.90" stroke="#000" stroke-width="0.55"/>
<line x1="173.23" y1="615.40" x2="173.23" y2="616.90" stroke="#000" stroke-width="0.55"/>
<line x1="174.64" y1="615.40" x2="174.64" y2="616.90" stroke="#000" stroke-width="0.55"/>
<line x1="175.78" y1="615.40" x2="175.78" y2="616.90" stroke="#000" stroke-width="0.55"/>
<line x1="176.75" y1="615.40" x2="176.75" y2="616.90" stroke="#000" stroke-width="0.55"/>
<line x1="177.59" y1="615.40" x2="177.59" y2="616.90" stroke="#000" stroke-width="0.55"/>
<line x1="178.34" y1="615.40" x2="178.34" y2="616.90" stroke="#000" stroke-width="0.55"/>
<line x1="108.50" y1="615.40" x2="108.50" y2="617.20" stroke="#000" stroke-width="0.6"/>
<line x1="114.00" y1="615.40" x2="114.00" y2="617.20" stroke="#000" stroke-width="0.6"/>
<circle cx="121.70" cy="616.70" r="1.35" fill="#000"/>
<text x="107.10" y="551.60" font-size="8.6" textLength="9.80" lengthAdjust="spacingAndGlyphs" fill="#231f20">A2</text>
<path d="M191.20,615.40 L195.00,615.00 L199.40,614.20 L202.00,612.60 L204.30,610.20 L206.00,606.00 L207.60,600.40 L208.80,593.00 L210.00,584.00 L211.10,575.80 L212.20,567.70 L213.00,561.50 L213.80,556.20 L214.60,551.50 L215.40,549.30 L216.20,548.60 L216.80,549.40 L217.40,551.30 L218.10,557.00 L218.70,564.40 L219.70,574.00 L220.70,584.00 L221.90,592.50 L223.10,600.40 L224.40,606.50 L225.60,611.80 L227.00,613.80 L228.80,615.00 L232.00,615.40 L232.00,615.40 L191.20,615.40" stroke="#5aa840" stroke-width="1.0" fill="#bcdb9f" stroke-linejoin="round"/>
<path d="M232.00,615.30 L265.30,615.30" stroke="#5aa840" stroke-width="0.8" fill="none" stroke-linejoin="round"/>
<path d="M189.30,615.40 L196.00,615.20 L202.70,613.40 L205.20,611.20 L207.60,608.50 L209.70,603.00 L211.70,597.10 L213.40,591.00 L215.00,585.70 L216.20,580.50 L217.40,575.80 L218.40,572.50 L219.30,570.10 L220.00,571.50 L220.70,574.20 L221.50,580.50 L222.30,587.30 L223.10,594.00 L223.90,600.40 L225.10,605.50 L226.40,610.20 L228.00,612.80 L229.60,614.20 L232.00,614.90 L235.40,615.20 L265.30,615.40" stroke="#33568f" stroke-width="1.15" fill="none" stroke-linejoin="round"/>
<path d="M189.30,615.40 L198.00,615.20 L204.00,613.60 L207.60,611.80 L210.00,609.50 L212.50,606.90 L214.20,605.20 L215.80,603.60 L217.00,600.80 L218.20,597.10 L219.50,593.50 L220.70,590.60 L221.50,588.00 L222.30,586.50 L222.70,586.20 L223.10,587.30 L223.50,589.50 L223.90,592.20 L224.70,596.50 L225.60,600.40 L226.30,603.20 L226.90,605.30 L227.80,603.80 L228.80,602.80 L229.80,603.60 L230.80,604.40 L232.20,607.80 L233.70,611.80 L235.30,614.20 L237.00,615.00 L238.30,613.20 L239.40,612.20 L240.30,613.20 L241.10,614.20 L243.00,615.20 L265.30,615.40" stroke="#c0143a" stroke-width="1.15" fill="none" stroke-linejoin="round"/>
<rect x="189.30" y="542.50" width="76.00" height="72.90" fill="none" stroke="#000" stroke-width="1.0"/>
<line x1="186.70" y1="615.40" x2="189.30" y2="615.40" stroke="#000" stroke-width="0.8"/>
<line x1="187.70" y1="612.71" x2="189.30" y2="612.71" stroke="#000" stroke-width="0.6"/>
<line x1="187.70" y1="610.02" x2="189.30" y2="610.02" stroke="#000" stroke-width="0.6"/>
<line x1="187.70" y1="607.33" x2="189.30" y2="607.33" stroke="#000" stroke-width="0.6"/>
<line x1="187.70" y1="604.64" x2="189.30" y2="604.64" stroke="#000" stroke-width="0.6"/>
<line x1="186.70" y1="601.95" x2="189.30" y2="601.95" stroke="#000" stroke-width="0.8"/>
<line x1="187.70" y1="599.26" x2="189.30" y2="599.26" stroke="#000" stroke-width="0.6"/>
<line x1="187.70" y1="596.57" x2="189.30" y2="596.57" stroke="#000" stroke-width="0.6"/>
<line x1="187.70" y1="593.88" x2="189.30" y2="593.88" stroke="#000" stroke-width="0.6"/>
<line x1="187.70" y1="591.19" x2="189.30" y2="591.19" stroke="#000" stroke-width="0.6"/>
<line x1="186.70" y1="588.50" x2="189.30" y2="588.50" stroke="#000" stroke-width="0.8"/>
<line x1="187.70" y1="585.81" x2="189.30" y2="585.81" stroke="#000" stroke-width="0.6"/>
<line x1="187.70" y1="583.12" x2="189.30" y2="583.12" stroke="#000" stroke-width="0.6"/>
<line x1="187.70" y1="580.43" x2="189.30" y2="580.43" stroke="#000" stroke-width="0.6"/>
<line x1="187.70" y1="577.74" x2="189.30" y2="577.74" stroke="#000" stroke-width="0.6"/>
<line x1="186.70" y1="575.05" x2="189.30" y2="575.05" stroke="#000" stroke-width="0.8"/>
<line x1="187.70" y1="572.36" x2="189.30" y2="572.36" stroke="#000" stroke-width="0.6"/>
<line x1="187.70" y1="569.67" x2="189.30" y2="569.67" stroke="#000" stroke-width="0.6"/>
<line x1="187.70" y1="566.98" x2="189.30" y2="566.98" stroke="#000" stroke-width="0.6"/>
<line x1="187.70" y1="564.29" x2="189.30" y2="564.29" stroke="#000" stroke-width="0.6"/>
<line x1="186.70" y1="561.60" x2="189.30" y2="561.60" stroke="#000" stroke-width="0.8"/>
<line x1="187.70" y1="558.91" x2="189.30" y2="558.91" stroke="#000" stroke-width="0.6"/>
<line x1="187.70" y1="556.22" x2="189.30" y2="556.22" stroke="#000" stroke-width="0.6"/>
<line x1="187.70" y1="553.53" x2="189.30" y2="553.53" stroke="#000" stroke-width="0.6"/>
<line x1="187.70" y1="550.84" x2="189.30" y2="550.84" stroke="#000" stroke-width="0.6"/>
<line x1="186.70" y1="548.15" x2="189.30" y2="548.15" stroke="#000" stroke-width="0.8"/>
<line x1="187.70" y1="545.46" x2="189.30" y2="545.46" stroke="#000" stroke-width="0.6"/>
<line x1="205.80" y1="615.40" x2="205.80" y2="617.80" stroke="#000" stroke-width="0.8"/>
<line x1="195.66" y1="615.40" x2="195.66" y2="616.90" stroke="#000" stroke-width="0.55"/>
<line x1="198.22" y1="615.40" x2="198.22" y2="616.90" stroke="#000" stroke-width="0.55"/>
<line x1="200.03" y1="615.40" x2="200.03" y2="616.90" stroke="#000" stroke-width="0.55"/>
<line x1="201.44" y1="615.40" x2="201.44" y2="616.90" stroke="#000" stroke-width="0.55"/>
<line x1="202.58" y1="615.40" x2="202.58" y2="616.90" stroke="#000" stroke-width="0.55"/>
<line x1="203.55" y1="615.40" x2="203.55" y2="616.90" stroke="#000" stroke-width="0.55"/>
<line x1="204.39" y1="615.40" x2="204.39" y2="616.90" stroke="#000" stroke-width="0.55"/>
<line x1="205.14" y1="615.40" x2="205.14" y2="616.90" stroke="#000" stroke-width="0.55"/>
<line x1="220.30" y1="615.40" x2="220.30" y2="617.80" stroke="#000" stroke-width="0.8"/>
<line x1="210.16" y1="615.40" x2="210.16" y2="616.90" stroke="#000" stroke-width="0.55"/>
<line x1="212.72" y1="615.40" x2="212.72" y2="616.90" stroke="#000" stroke-width="0.55"/>
<line x1="214.53" y1="615.40" x2="214.53" y2="616.90" stroke="#000" stroke-width="0.55"/>
<line x1="215.94" y1="615.40" x2="215.94" y2="616.90" stroke="#000" stroke-width="0.55"/>
<line x1="217.08" y1="615.40" x2="217.08" y2="616.90" stroke="#000" stroke-width="0.55"/>
<line x1="218.05" y1="615.40" x2="218.05" y2="616.90" stroke="#000" stroke-width="0.55"/>
<line x1="218.89" y1="615.40" x2="218.89" y2="616.90" stroke="#000" stroke-width="0.55"/>
<line x1="219.64" y1="615.40" x2="219.64" y2="616.90" stroke="#000" stroke-width="0.55"/>
<line x1="234.80" y1="615.40" x2="234.80" y2="617.80" stroke="#000" stroke-width="0.8"/>
<line x1="224.66" y1="615.40" x2="224.66" y2="616.90" stroke="#000" stroke-width="0.55"/>
<line x1="227.22" y1="615.40" x2="227.22" y2="616.90" stroke="#000" stroke-width="0.55"/>
<line x1="229.03" y1="615.40" x2="229.03" y2="616.90" stroke="#000" stroke-width="0.55"/>
<line x1="230.44" y1="615.40" x2="230.44" y2="616.90" stroke="#000" stroke-width="0.55"/>
<line x1="231.58" y1="615.40" x2="231.58" y2="616.90" stroke="#000" stroke-width="0.55"/>
<line x1="232.55" y1="615.40" x2="232.55" y2="616.90" stroke="#000" stroke-width="0.55"/>
<line x1="233.39" y1="615.40" x2="233.39" y2="616.90" stroke="#000" stroke-width="0.55"/>
<line x1="234.14" y1="615.40" x2="234.14" y2="616.90" stroke="#000" stroke-width="0.55"/>
<line x1="249.30" y1="615.40" x2="249.30" y2="617.80" stroke="#000" stroke-width="0.8"/>
<line x1="239.16" y1="615.40" x2="239.16" y2="616.90" stroke="#000" stroke-width="0.55"/>
<line x1="241.72" y1="615.40" x2="241.72" y2="616.90" stroke="#000" stroke-width="0.55"/>
<line x1="243.53" y1="615.40" x2="243.53" y2="616.90" stroke="#000" stroke-width="0.55"/>
<line x1="244.94" y1="615.40" x2="244.94" y2="616.90" stroke="#000" stroke-width="0.55"/>
<line x1="246.08" y1="615.40" x2="246.08" y2="616.90" stroke="#000" stroke-width="0.55"/>
<line x1="247.05" y1="615.40" x2="247.05" y2="616.90" stroke="#000" stroke-width="0.55"/>
<line x1="247.89" y1="615.40" x2="247.89" y2="616.90" stroke="#000" stroke-width="0.55"/>
<line x1="248.64" y1="615.40" x2="248.64" y2="616.90" stroke="#000" stroke-width="0.55"/>
<line x1="263.80" y1="615.40" x2="263.80" y2="617.80" stroke="#000" stroke-width="0.8"/>
<line x1="253.66" y1="615.40" x2="253.66" y2="616.90" stroke="#000" stroke-width="0.55"/>
<line x1="256.22" y1="615.40" x2="256.22" y2="616.90" stroke="#000" stroke-width="0.55"/>
<line x1="258.03" y1="615.40" x2="258.03" y2="616.90" stroke="#000" stroke-width="0.55"/>
<line x1="259.44" y1="615.40" x2="259.44" y2="616.90" stroke="#000" stroke-width="0.55"/>
<line x1="260.58" y1="615.40" x2="260.58" y2="616.90" stroke="#000" stroke-width="0.55"/>
<line x1="261.55" y1="615.40" x2="261.55" y2="616.90" stroke="#000" stroke-width="0.55"/>
<line x1="262.39" y1="615.40" x2="262.39" y2="616.90" stroke="#000" stroke-width="0.55"/>
<line x1="263.14" y1="615.40" x2="263.14" y2="616.90" stroke="#000" stroke-width="0.55"/>
<line x1="193.30" y1="615.40" x2="193.30" y2="617.20" stroke="#000" stroke-width="0.6"/>
<line x1="198.80" y1="615.40" x2="198.80" y2="617.20" stroke="#000" stroke-width="0.6"/>
<circle cx="206.50" cy="616.70" r="1.35" fill="#000"/>
<text x="191.90" y="551.60" font-size="8.6" textLength="11.00" lengthAdjust="spacingAndGlyphs" fill="#231f20">G4</text>
<line x1="254.40" y1="574.10" x2="271.50" y2="574.10" stroke="#333" stroke-width="1.2"/>
<path d="M276.60,574.10 L271.00,571.70 L271.00,576.50 Z" fill="#111"/>
<line x1="19.80" y1="625.00" x2="42.30" y2="625.00" stroke="#222" stroke-width="1.2"/>
<path d="M47.60,625.00 L41.80,622.60 L41.80,627.40 Z" fill="#111"/>
<text x="21.00" y="637.40" font-size="10.6" textLength="25.80" lengthAdjust="spacingAndGlyphs" fill="#231f20">2NBDG</text>
<rect x="77.50" y="644.40" width="10.50" height="5.20" fill="#2d4b7f"/>
<text x="92.00" y="649.60" font-size="8.1" textLength="14.90" lengthAdjust="spacingAndGlyphs" fill="#231f20">OT1</text>
<rect x="117.00" y="644.40" width="11.00" height="5.20" fill="#a2022d"/>
<text x="130.80" y="649.60" font-size="8.1" textLength="17.30" lengthAdjust="spacingAndGlyphs" fill="#231f20">OT1;</text>
<g transform="translate(147.90 649.60) skewX(-10)"><text x="0" y="0" font-size="8.1" textLength="16.40" lengthAdjust="spacingAndGlyphs" fill="#231f20">Crbn</text></g>
<text x="164.70" y="645.70" font-size="4.86" textLength="5.15" lengthAdjust="spacingAndGlyphs" fill="#3a3a3a" style="stroke-width:0.1px">-/-</text>
<rect x="183.50" y="644.00" width="11.40" height="6.10" fill="#bcdb9f" stroke="#5aa840" stroke-width="1.0"/>
<text x="198.00" y="649.60" font-size="8.1" textLength="17.90" lengthAdjust="spacingAndGlyphs" fill="#231f20">FMO</text>
<rect x="350.20" y="571.40" width="10.20" height="43.90" fill="#2d4b7f"/>
<line x1="355.30" y1="563.40" x2="355.30" y2="572.40" stroke="#111" stroke-width="1.0"/>
<line x1="353.60" y1="563.40" x2="357.00" y2="563.40" stroke="#111" stroke-width="1.0"/>
<rect x="365.40" y="551.80" width="10.20" height="63.50" fill="#a2022d"/>
<line x1="370.50" y1="548.40" x2="370.50" y2="552.80" stroke="#111" stroke-width="1.0"/>
<line x1="368.80" y1="548.40" x2="372.20" y2="548.40" stroke="#111" stroke-width="1.0"/>
<rect x="391.00" y="586.20" width="10.20" height="29.10" fill="#2d4b7f"/>
<line x1="396.10" y1="581.90" x2="396.10" y2="587.20" stroke="#111" stroke-width="1.0"/>
<line x1="394.40" y1="581.90" x2="397.80" y2="581.90" stroke="#111" stroke-width="1.0"/>
<rect x="406.30" y="575.00" width="10.20" height="40.30" fill="#a2022d"/>
<line x1="411.40" y1="569.80" x2="411.40" y2="576.00" stroke="#111" stroke-width="1.0"/>
<line x1="409.70" y1="569.80" x2="413.10" y2="569.80" stroke="#111" stroke-width="1.0"/>
<rect x="431.30" y="597.30" width="10.20" height="18.00" fill="#2d4b7f"/>
<line x1="436.40" y1="595.80" x2="436.40" y2="598.30" stroke="#111" stroke-width="1.0"/>
<line x1="434.70" y1="595.80" x2="438.10" y2="595.80" stroke="#111" stroke-width="1.0"/>
<rect x="446.70" y="584.60" width="10.20" height="30.70" fill="#a2022d"/>
<line x1="451.80" y1="583.50" x2="451.80" y2="585.60" stroke="#111" stroke-width="1.0"/>
<line x1="450.10" y1="583.50" x2="453.50" y2="583.50" stroke="#111" stroke-width="1.0"/>
<line x1="342.60" y1="532.30" x2="342.60" y2="615.80" stroke="#000" stroke-width="1.2"/>
<line x1="342.00" y1="615.30" x2="463.70" y2="615.30" stroke="#000" stroke-width="1.2"/>
<line x1="340.00" y1="535.00" x2="342.60" y2="535.00" stroke="#000" stroke-width="1.0"/>
<text x="336.40" y="538.00" font-size="8.6" textLength="4.70" lengthAdjust="spacingAndGlyphs" text-anchor="end" fill="#231f20">4</text>
<line x1="340.00" y1="555.30" x2="342.60" y2="555.30" stroke="#000" stroke-width="1.0"/>
<text x="336.40" y="558.30" font-size="8.6" textLength="4.70" lengthAdjust="spacingAndGlyphs" text-anchor="end" fill="#231f20">3</text>
<line x1="340.00" y1="575.50" x2="342.60" y2="575.50" stroke="#000" stroke-width="1.0"/>
<text x="336.40" y="578.50" font-size="8.6" textLength="4.70" lengthAdjust="spacingAndGlyphs" text-anchor="end" fill="#231f20">2</text>
<line x1="340.00" y1="595.60" x2="342.60" y2="595.60" stroke="#000" stroke-width="1.0"/>
<text x="336.40" y="598.60" font-size="8.6" textLength="4.70" lengthAdjust="spacingAndGlyphs" text-anchor="end" fill="#231f20">1</text>
<line x1="340.00" y1="615.30" x2="342.60" y2="615.30" stroke="#000" stroke-width="1.0"/>
<text x="336.40" y="618.30" font-size="8.6" textLength="4.70" lengthAdjust="spacingAndGlyphs" text-anchor="end" fill="#231f20">0</text>
<line x1="363.20" y1="615.30" x2="363.20" y2="618.00" stroke="#000" stroke-width="1.0"/>
<text x="363.20" y="628.90" font-size="8.6" textLength="10.80" lengthAdjust="spacingAndGlyphs" text-anchor="middle" fill="#231f20">N4</text>
<line x1="403.70" y1="615.30" x2="403.70" y2="618.00" stroke="#000" stroke-width="1.0"/>
<text x="403.70" y="628.90" font-size="8.6" textLength="10.80" lengthAdjust="spacingAndGlyphs" text-anchor="middle" fill="#231f20">A2</text>
<line x1="443.80" y1="615.30" x2="443.80" y2="618.00" stroke="#000" stroke-width="1.0"/>
<text x="443.80" y="628.90" font-size="8.6" textLength="10.80" lengthAdjust="spacingAndGlyphs" text-anchor="middle" fill="#231f20">G4</text>
<line x1="355.40" y1="540.60" x2="370.90" y2="540.60" stroke="#3a3a3a" stroke-width="1.35"/>
<circle cx="361.40" cy="536.70" r="1.1" fill="#1a1a1a"/>
<circle cx="364.90" cy="536.70" r="1.1" fill="#1a1a1a"/>
<line x1="396.30" y1="561.70" x2="410.80" y2="561.70" stroke="#3a3a3a" stroke-width="1.35"/>
<circle cx="400.05" cy="557.80" r="1.1" fill="#1a1a1a"/>
<circle cx="403.55" cy="557.80" r="1.1" fill="#1a1a1a"/>
<circle cx="407.05" cy="557.80" r="1.1" fill="#1a1a1a"/>
<line x1="436.30" y1="572.30" x2="451.20" y2="572.30" stroke="#3a3a3a" stroke-width="1.35"/>
<circle cx="438.50" cy="568.40" r="1.1" fill="#1a1a1a"/>
<circle cx="442.00" cy="568.40" r="1.1" fill="#1a1a1a"/>
<circle cx="445.50" cy="568.40" r="1.1" fill="#1a1a1a"/>
<circle cx="449.00" cy="568.40" r="1.1" fill="#1a1a1a"/>
<text x="315.60" y="609.40" font-size="9.8" textLength="67.10" lengthAdjust="spacingAndGlyphs" fill="#231f20" transform="rotate(-90 315.60 609.40)">2NBDG G-MFI (x10</text>
<text x="310.20" y="542.40" font-size="6.2" textLength="3.00" lengthAdjust="spacingAndGlyphs" fill="#231f20" transform="rotate(-90 310.20 542.40)">3</text>
<text x="315.60" y="539.20" font-size="9.8" textLength="2.90" lengthAdjust="spacingAndGlyphs" fill="#231f20" transform="rotate(-90 315.60 539.20)">)</text>
<text x="325.80" y="590.60" font-size="9.8" textLength="27.60" lengthAdjust="spacingAndGlyphs" fill="#231f20" transform="rotate(-90 325.80 590.60)">of CD69</text>
<text x="322.00" y="562.60" font-size="6.4" textLength="4.00" lengthAdjust="spacingAndGlyphs" fill="#231f20" transform="rotate(-90 322.00 562.60)">+</text>
<rect x="362.40" y="639.30" width="11.10" height="5.30" fill="#2d4b7f"/>
<text x="376.50" y="644.60" font-size="8.1" textLength="15.30" lengthAdjust="spacingAndGlyphs" fill="#231f20">OT1</text>
<rect x="401.90" y="639.30" width="11.50" height="5.30" fill="#a2022d"/>
<text x="416.20" y="644.60" font-size="8.1" textLength="17.50" lengthAdjust="spacingAndGlyphs" fill="#231f20">OT1;</text>
<g transform="translate(433.40 644.60) skewX(-10)"><text x="0" y="0" font-size="8.1" textLength="16.40" lengthAdjust="spacingAndGlyphs" fill="#231f20">Crbn</text></g>
<text x="450.20" y="640.70" font-size="4.86" textLength="5.15" lengthAdjust="spacingAndGlyphs" fill="#3a3a3a" style="stroke-width:0.1px">-/-</text>
</svg></body></html>
